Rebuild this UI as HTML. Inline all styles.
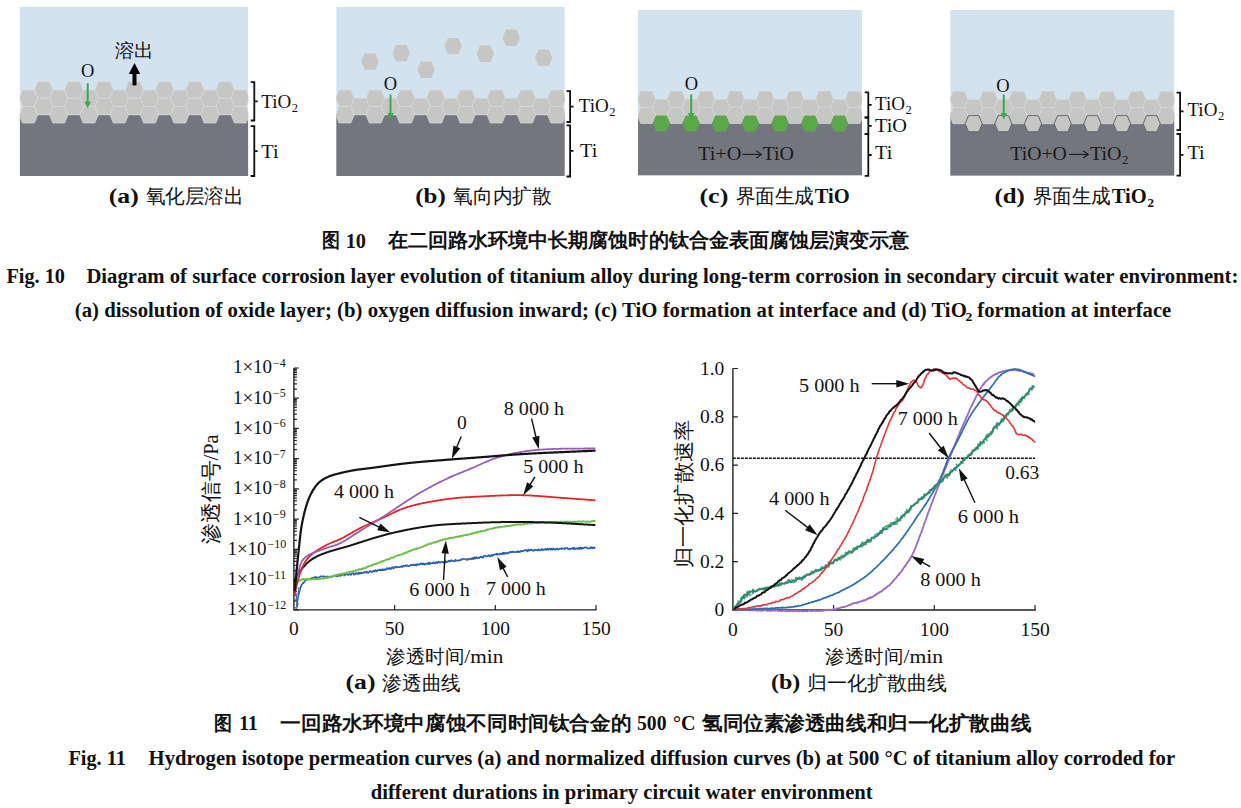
<!DOCTYPE html><html><head><meta charset="utf-8"><title>Fig</title><style>
html,body{margin:0;padding:0;background:#fff;width:1241px;height:808px;overflow:hidden;position:relative;font-family:"Liberation Serif",serif}
</style></head><body>
<svg width="1241" height="808" viewBox="0 0 1241 808" style="position:absolute;left:0;top:0">
<defs><clipPath id="pc"><rect x="0" y="0" width="228.6" height="169.1"/></clipPath></defs>
<g transform="translate(19.7 7.0) scale(1.0)"><g clip-path="url(#pc)"><rect x="0" y="0" width="228.6" height="169.1" fill="#d3e2ef"/>
<rect x="0" y="108" width="228.6" height="61.1" fill="#73767e"/>
<polygon points="-0.45,91.25 2.93,83 14.68,83 18.05,91.25 14.68,99.5 2.93,99.5" fill="#c6c6c5" stroke="#d8dadb" stroke-width="0.7"/>
<polygon points="-0.45,107.75 2.93,99.5 14.68,99.5 18.05,107.75 14.68,116 2.93,116" fill="#c6c6c5" stroke="#d8dadb" stroke-width="0.7"/>
<polygon points="29.8,91.25 33.17,83 44.92,83 48.3,91.25 44.92,99.5 33.17,99.5" fill="#c6c6c5" stroke="#d8dadb" stroke-width="0.7"/>
<polygon points="29.8,107.75 33.17,99.5 44.92,99.5 48.3,107.75 44.92,116 33.17,116" fill="#c6c6c5" stroke="#d8dadb" stroke-width="0.7"/>
<polygon points="60.05,91.25 63.42,83 75.17,83 78.55,91.25 75.17,99.5 63.42,99.5" fill="#c6c6c5" stroke="#d8dadb" stroke-width="0.7"/>
<polygon points="60.05,107.75 63.42,99.5 75.17,99.5 78.55,107.75 75.17,116 63.42,116" fill="#c6c6c5" stroke="#d8dadb" stroke-width="0.7"/>
<polygon points="90.3,91.25 93.67,83 105.42,83 108.8,91.25 105.42,99.5 93.67,99.5" fill="#c6c6c5" stroke="#d8dadb" stroke-width="0.7"/>
<polygon points="90.3,107.75 93.67,99.5 105.42,99.5 108.8,107.75 105.42,116 93.67,116" fill="#c6c6c5" stroke="#d8dadb" stroke-width="0.7"/>
<polygon points="120.55,91.25 123.93,83 135.68,83 139.05,91.25 135.68,99.5 123.93,99.5" fill="#c6c6c5" stroke="#d8dadb" stroke-width="0.7"/>
<polygon points="120.55,107.75 123.93,99.5 135.68,99.5 139.05,107.75 135.68,116 123.93,116" fill="#c6c6c5" stroke="#d8dadb" stroke-width="0.7"/>
<polygon points="150.8,91.25 154.18,83 165.93,83 169.3,91.25 165.93,99.5 154.18,99.5" fill="#c6c6c5" stroke="#d8dadb" stroke-width="0.7"/>
<polygon points="150.8,107.75 154.18,99.5 165.93,99.5 169.3,107.75 165.93,116 154.18,116" fill="#c6c6c5" stroke="#d8dadb" stroke-width="0.7"/>
<polygon points="181.05,91.25 184.43,83 196.18,83 199.55,91.25 196.18,99.5 184.43,99.5" fill="#c6c6c5" stroke="#d8dadb" stroke-width="0.7"/>
<polygon points="181.05,107.75 184.43,99.5 196.18,99.5 199.55,107.75 196.18,116 184.43,116" fill="#c6c6c5" stroke="#d8dadb" stroke-width="0.7"/>
<polygon points="211.3,91.25 214.68,83 226.43,83 229.8,91.25 226.43,99.5 214.68,99.5" fill="#c6c6c5" stroke="#d8dadb" stroke-width="0.7"/>
<polygon points="211.3,107.75 214.68,99.5 226.43,99.5 229.8,107.75 226.43,116 214.68,116" fill="#c6c6c5" stroke="#d8dadb" stroke-width="0.7"/>
<polygon points="14.68,83 18.05,74.75 29.8,74.75 33.17,83 29.8,91.25 18.05,91.25" fill="#c6c6c5" stroke="#d8dadb" stroke-width="0.7"/>
<polygon points="14.68,99.5 18.05,91.25 29.8,91.25 33.17,99.5 29.8,107.75 18.05,107.75" fill="#c6c6c5" stroke="#d8dadb" stroke-width="0.7"/>
<polygon points="44.92,83 48.3,74.75 60.05,74.75 63.42,83 60.05,91.25 48.3,91.25" fill="#c6c6c5" stroke="#d8dadb" stroke-width="0.7"/>
<polygon points="44.92,99.5 48.3,91.25 60.05,91.25 63.42,99.5 60.05,107.75 48.3,107.75" fill="#c6c6c5" stroke="#d8dadb" stroke-width="0.7"/>
<polygon points="75.17,83 78.55,74.75 90.3,74.75 93.67,83 90.3,91.25 78.55,91.25" fill="#c6c6c5" stroke="#d8dadb" stroke-width="0.7"/>
<polygon points="75.17,99.5 78.55,91.25 90.3,91.25 93.67,99.5 90.3,107.75 78.55,107.75" fill="#c6c6c5" stroke="#d8dadb" stroke-width="0.7"/>
<polygon points="105.42,83 108.8,74.75 120.55,74.75 123.92,83 120.55,91.25 108.8,91.25" fill="#c6c6c5" stroke="#d8dadb" stroke-width="0.7"/>
<polygon points="105.42,99.5 108.8,91.25 120.55,91.25 123.92,99.5 120.55,107.75 108.8,107.75" fill="#c6c6c5" stroke="#d8dadb" stroke-width="0.7"/>
<polygon points="135.68,83 139.05,74.75 150.8,74.75 154.18,83 150.8,91.25 139.05,91.25" fill="#c6c6c5" stroke="#d8dadb" stroke-width="0.7"/>
<polygon points="135.68,99.5 139.05,91.25 150.8,91.25 154.18,99.5 150.8,107.75 139.05,107.75" fill="#c6c6c5" stroke="#d8dadb" stroke-width="0.7"/>
<polygon points="165.93,83 169.3,74.75 181.05,74.75 184.43,83 181.05,91.25 169.3,91.25" fill="#c6c6c5" stroke="#d8dadb" stroke-width="0.7"/>
<polygon points="165.93,99.5 169.3,91.25 181.05,91.25 184.43,99.5 181.05,107.75 169.3,107.75" fill="#c6c6c5" stroke="#d8dadb" stroke-width="0.7"/>
<polygon points="196.18,83 199.55,74.75 211.3,74.75 214.68,83 211.3,91.25 199.55,91.25" fill="#c6c6c5" stroke="#d8dadb" stroke-width="0.7"/>
<polygon points="196.18,99.5 199.55,91.25 211.3,91.25 214.68,99.5 211.3,107.75 199.55,107.75" fill="#c6c6c5" stroke="#d8dadb" stroke-width="0.7"/></g></g>
<g transform="translate(336.2 7.0) scale(1.0)"><g clip-path="url(#pc)"><rect x="0" y="0" width="228.6" height="169.1" fill="#d3e2ef"/>
<rect x="0" y="108" width="228.6" height="61.1" fill="#73767e"/>
<polygon points="25.1,54.6 28.55,46.4 39.05,46.4 42.5,54.6 39.05,62.8 28.55,62.8" fill="#c6c6c5"/>
<polygon points="56.3,46.3 59.75,38.1 70.25,38.1 73.7,46.3 70.25,54.5 59.75,54.5" fill="#c6c6c5"/>
<polygon points="81.2,62.7 84.65,54.5 95.15,54.5 98.6,62.7 95.15,70.9 84.65,70.9" fill="#c6c6c5"/>
<polygon points="108.3,39.1 111.75,30.9 122.25,30.9 125.7,39.1 122.25,47.3 111.75,47.3" fill="#c6c6c5"/>
<polygon points="140.4,46.8 143.85,38.6 154.35,38.6 157.8,46.8 154.35,55 143.85,55" fill="#c6c6c5"/>
<polygon points="166.3,30.8 169.75,22.6 180.25,22.6 183.7,30.8 180.25,39 169.75,39" fill="#c6c6c5"/>
<polygon points="198.8,50.7 202.25,42.5 212.75,42.5 216.2,50.7 212.75,58.9 202.25,58.9" fill="#c6c6c5"/>
<polygon points="-0.45,91.25 2.93,83 14.68,83 18.05,91.25 14.68,99.5 2.93,99.5" fill="#c6c6c5" stroke="#d8dadb" stroke-width="0.7"/>
<polygon points="-0.45,107.75 2.93,99.5 14.68,99.5 18.05,107.75 14.68,116 2.93,116" fill="#c6c6c5" stroke="#d8dadb" stroke-width="0.7"/>
<polygon points="29.8,91.25 33.17,83 44.92,83 48.3,91.25 44.92,99.5 33.17,99.5" fill="#c6c6c5" stroke="#d8dadb" stroke-width="0.7"/>
<polygon points="29.8,107.75 33.17,99.5 44.92,99.5 48.3,107.75 44.92,116 33.17,116" fill="#c6c6c5" stroke="#d8dadb" stroke-width="0.7"/>
<polygon points="60.05,91.25 63.42,83 75.17,83 78.55,91.25 75.17,99.5 63.42,99.5" fill="#c6c6c5" stroke="#d8dadb" stroke-width="0.7"/>
<polygon points="60.05,107.75 63.42,99.5 75.17,99.5 78.55,107.75 75.17,116 63.42,116" fill="#c6c6c5" stroke="#d8dadb" stroke-width="0.7"/>
<polygon points="90.3,91.25 93.67,83 105.42,83 108.8,91.25 105.42,99.5 93.67,99.5" fill="#c6c6c5" stroke="#d8dadb" stroke-width="0.7"/>
<polygon points="90.3,107.75 93.67,99.5 105.42,99.5 108.8,107.75 105.42,116 93.67,116" fill="#c6c6c5" stroke="#d8dadb" stroke-width="0.7"/>
<polygon points="120.55,91.25 123.93,83 135.68,83 139.05,91.25 135.68,99.5 123.93,99.5" fill="#c6c6c5" stroke="#d8dadb" stroke-width="0.7"/>
<polygon points="120.55,107.75 123.93,99.5 135.68,99.5 139.05,107.75 135.68,116 123.93,116" fill="#c6c6c5" stroke="#d8dadb" stroke-width="0.7"/>
<polygon points="150.8,91.25 154.18,83 165.93,83 169.3,91.25 165.93,99.5 154.18,99.5" fill="#c6c6c5" stroke="#d8dadb" stroke-width="0.7"/>
<polygon points="150.8,107.75 154.18,99.5 165.93,99.5 169.3,107.75 165.93,116 154.18,116" fill="#c6c6c5" stroke="#d8dadb" stroke-width="0.7"/>
<polygon points="181.05,91.25 184.43,83 196.18,83 199.55,91.25 196.18,99.5 184.43,99.5" fill="#c6c6c5" stroke="#d8dadb" stroke-width="0.7"/>
<polygon points="181.05,107.75 184.43,99.5 196.18,99.5 199.55,107.75 196.18,116 184.43,116" fill="#c6c6c5" stroke="#d8dadb" stroke-width="0.7"/>
<polygon points="211.3,91.25 214.68,83 226.43,83 229.8,91.25 226.43,99.5 214.68,99.5" fill="#c6c6c5" stroke="#d8dadb" stroke-width="0.7"/>
<polygon points="211.3,107.75 214.68,99.5 226.43,99.5 229.8,107.75 226.43,116 214.68,116" fill="#c6c6c5" stroke="#d8dadb" stroke-width="0.7"/>
<polygon points="14.68,99.5 18.05,91.25 29.8,91.25 33.17,99.5 29.8,107.75 18.05,107.75" fill="#c6c6c5" stroke="#d8dadb" stroke-width="0.7"/>
<polygon points="44.92,99.5 48.3,91.25 60.05,91.25 63.42,99.5 60.05,107.75 48.3,107.75" fill="#c6c6c5" stroke="#d8dadb" stroke-width="0.7"/>
<polygon points="75.17,99.5 78.55,91.25 90.3,91.25 93.67,99.5 90.3,107.75 78.55,107.75" fill="#c6c6c5" stroke="#d8dadb" stroke-width="0.7"/>
<polygon points="105.42,99.5 108.8,91.25 120.55,91.25 123.92,99.5 120.55,107.75 108.8,107.75" fill="#c6c6c5" stroke="#d8dadb" stroke-width="0.7"/>
<polygon points="135.68,99.5 139.05,91.25 150.8,91.25 154.18,99.5 150.8,107.75 139.05,107.75" fill="#c6c6c5" stroke="#d8dadb" stroke-width="0.7"/>
<polygon points="165.93,99.5 169.3,91.25 181.05,91.25 184.43,99.5 181.05,107.75 169.3,107.75" fill="#c6c6c5" stroke="#d8dadb" stroke-width="0.7"/>
<polygon points="196.18,99.5 199.55,91.25 211.3,91.25 214.68,99.5 211.3,107.75 199.55,107.75" fill="#c6c6c5" stroke="#d8dadb" stroke-width="0.7"/></g></g>
<g transform="translate(637.9 9.7) scale(0.981)"><g clip-path="url(#pc)"><rect x="0" y="0" width="228.6" height="169.1" fill="#d3e2ef"/>
<rect x="0" y="108" width="228.6" height="61.1" fill="#73767e"/>
<polygon points="-0.45,91.25 2.93,83 14.68,83 18.05,91.25 14.68,99.5 2.93,99.5" fill="#c6c6c5" stroke="#d8dadb" stroke-width="0.7"/>
<polygon points="-0.45,107.75 2.93,99.5 14.68,99.5 18.05,107.75 14.68,116 2.93,116" fill="#c6c6c5" stroke="#d8dadb" stroke-width="0.7"/>
<polygon points="29.8,91.25 33.17,83 44.92,83 48.3,91.25 44.92,99.5 33.17,99.5" fill="#c6c6c5" stroke="#d8dadb" stroke-width="0.7"/>
<polygon points="29.8,107.75 33.17,99.5 44.92,99.5 48.3,107.75 44.92,116 33.17,116" fill="#c6c6c5" stroke="#d8dadb" stroke-width="0.7"/>
<polygon points="60.05,91.25 63.42,83 75.17,83 78.55,91.25 75.17,99.5 63.42,99.5" fill="#c6c6c5" stroke="#d8dadb" stroke-width="0.7"/>
<polygon points="60.05,107.75 63.42,99.5 75.17,99.5 78.55,107.75 75.17,116 63.42,116" fill="#c6c6c5" stroke="#d8dadb" stroke-width="0.7"/>
<polygon points="90.3,91.25 93.67,83 105.42,83 108.8,91.25 105.42,99.5 93.67,99.5" fill="#c6c6c5" stroke="#d8dadb" stroke-width="0.7"/>
<polygon points="90.3,107.75 93.67,99.5 105.42,99.5 108.8,107.75 105.42,116 93.67,116" fill="#c6c6c5" stroke="#d8dadb" stroke-width="0.7"/>
<polygon points="120.55,91.25 123.93,83 135.68,83 139.05,91.25 135.68,99.5 123.93,99.5" fill="#c6c6c5" stroke="#d8dadb" stroke-width="0.7"/>
<polygon points="120.55,107.75 123.93,99.5 135.68,99.5 139.05,107.75 135.68,116 123.93,116" fill="#c6c6c5" stroke="#d8dadb" stroke-width="0.7"/>
<polygon points="150.8,91.25 154.18,83 165.93,83 169.3,91.25 165.93,99.5 154.18,99.5" fill="#c6c6c5" stroke="#d8dadb" stroke-width="0.7"/>
<polygon points="150.8,107.75 154.18,99.5 165.93,99.5 169.3,107.75 165.93,116 154.18,116" fill="#c6c6c5" stroke="#d8dadb" stroke-width="0.7"/>
<polygon points="181.05,91.25 184.43,83 196.18,83 199.55,91.25 196.18,99.5 184.43,99.5" fill="#c6c6c5" stroke="#d8dadb" stroke-width="0.7"/>
<polygon points="181.05,107.75 184.43,99.5 196.18,99.5 199.55,107.75 196.18,116 184.43,116" fill="#c6c6c5" stroke="#d8dadb" stroke-width="0.7"/>
<polygon points="211.3,91.25 214.68,83 226.43,83 229.8,91.25 226.43,99.5 214.68,99.5" fill="#c6c6c5" stroke="#d8dadb" stroke-width="0.7"/>
<polygon points="211.3,107.75 214.68,99.5 226.43,99.5 229.8,107.75 226.43,116 214.68,116" fill="#c6c6c5" stroke="#d8dadb" stroke-width="0.7"/>
<polygon points="14.68,99.5 18.05,91.25 29.8,91.25 33.17,99.5 29.8,107.75 18.05,107.75" fill="#c6c6c5" stroke="#d8dadb" stroke-width="0.7"/>
<polygon points="15.18,116 18.68,107.75 29.18,107.75 32.67,116 29.18,124.25 18.68,124.25" fill="#5aa847"/>
<polygon points="44.92,99.5 48.3,91.25 60.05,91.25 63.42,99.5 60.05,107.75 48.3,107.75" fill="#c6c6c5" stroke="#d8dadb" stroke-width="0.7"/>
<polygon points="45.42,116 48.92,107.75 59.42,107.75 62.92,116 59.42,124.25 48.92,124.25" fill="#5aa847"/>
<polygon points="75.17,99.5 78.55,91.25 90.3,91.25 93.67,99.5 90.3,107.75 78.55,107.75" fill="#c6c6c5" stroke="#d8dadb" stroke-width="0.7"/>
<polygon points="75.67,116 79.17,107.75 89.67,107.75 93.17,116 89.67,124.25 79.17,124.25" fill="#5aa847"/>
<polygon points="105.42,99.5 108.8,91.25 120.55,91.25 123.92,99.5 120.55,107.75 108.8,107.75" fill="#c6c6c5" stroke="#d8dadb" stroke-width="0.7"/>
<polygon points="105.92,116 109.42,107.75 119.92,107.75 123.42,116 119.92,124.25 109.42,124.25" fill="#5aa847"/>
<polygon points="135.68,99.5 139.05,91.25 150.8,91.25 154.18,99.5 150.8,107.75 139.05,107.75" fill="#c6c6c5" stroke="#d8dadb" stroke-width="0.7"/>
<polygon points="136.18,116 139.68,107.75 150.18,107.75 153.68,116 150.18,124.25 139.68,124.25" fill="#5aa847"/>
<polygon points="165.93,99.5 169.3,91.25 181.05,91.25 184.43,99.5 181.05,107.75 169.3,107.75" fill="#c6c6c5" stroke="#d8dadb" stroke-width="0.7"/>
<polygon points="166.43,116 169.93,107.75 180.43,107.75 183.93,116 180.43,124.25 169.93,124.25" fill="#5aa847"/>
<polygon points="196.18,99.5 199.55,91.25 211.3,91.25 214.68,99.5 211.3,107.75 199.55,107.75" fill="#c6c6c5" stroke="#d8dadb" stroke-width="0.7"/>
<polygon points="196.68,116 200.18,107.75 210.68,107.75 214.18,116 210.68,124.25 200.18,124.25" fill="#5aa847"/></g></g>
<g transform="translate(950.2 9.9) scale(0.981)"><g clip-path="url(#pc)"><rect x="0" y="0" width="228.6" height="169.1" fill="#d3e2ef"/>
<rect x="0" y="108" width="228.6" height="61.1" fill="#73767e"/>
<polygon points="-0.45,91.25 2.93,83 14.68,83 18.05,91.25 14.68,99.5 2.93,99.5" fill="#c6c6c5" stroke="#d8dadb" stroke-width="0.7"/>
<polygon points="-0.45,107.75 2.93,99.5 14.68,99.5 18.05,107.75 14.68,116 2.93,116" fill="#c6c6c5" stroke="#d8dadb" stroke-width="0.7"/>
<polygon points="29.8,91.25 33.17,83 44.92,83 48.3,91.25 44.92,99.5 33.17,99.5" fill="#c6c6c5" stroke="#d8dadb" stroke-width="0.7"/>
<polygon points="29.8,107.75 33.17,99.5 44.92,99.5 48.3,107.75 44.92,116 33.17,116" fill="#c6c6c5" stroke="#d8dadb" stroke-width="0.7"/>
<polygon points="60.05,91.25 63.42,83 75.17,83 78.55,91.25 75.17,99.5 63.42,99.5" fill="#c6c6c5" stroke="#d8dadb" stroke-width="0.7"/>
<polygon points="60.05,107.75 63.42,99.5 75.17,99.5 78.55,107.75 75.17,116 63.42,116" fill="#c6c6c5" stroke="#d8dadb" stroke-width="0.7"/>
<polygon points="90.3,91.25 93.67,83 105.42,83 108.8,91.25 105.42,99.5 93.67,99.5" fill="#c6c6c5" stroke="#d8dadb" stroke-width="0.7"/>
<polygon points="90.3,107.75 93.67,99.5 105.42,99.5 108.8,107.75 105.42,116 93.67,116" fill="#c6c6c5" stroke="#d8dadb" stroke-width="0.7"/>
<polygon points="120.55,91.25 123.93,83 135.68,83 139.05,91.25 135.68,99.5 123.93,99.5" fill="#c6c6c5" stroke="#d8dadb" stroke-width="0.7"/>
<polygon points="120.55,107.75 123.93,99.5 135.68,99.5 139.05,107.75 135.68,116 123.93,116" fill="#c6c6c5" stroke="#d8dadb" stroke-width="0.7"/>
<polygon points="150.8,91.25 154.18,83 165.93,83 169.3,91.25 165.93,99.5 154.18,99.5" fill="#c6c6c5" stroke="#d8dadb" stroke-width="0.7"/>
<polygon points="150.8,107.75 154.18,99.5 165.93,99.5 169.3,107.75 165.93,116 154.18,116" fill="#c6c6c5" stroke="#d8dadb" stroke-width="0.7"/>
<polygon points="181.05,91.25 184.43,83 196.18,83 199.55,91.25 196.18,99.5 184.43,99.5" fill="#c6c6c5" stroke="#d8dadb" stroke-width="0.7"/>
<polygon points="181.05,107.75 184.43,99.5 196.18,99.5 199.55,107.75 196.18,116 184.43,116" fill="#c6c6c5" stroke="#d8dadb" stroke-width="0.7"/>
<polygon points="211.3,91.25 214.68,83 226.43,83 229.8,91.25 226.43,99.5 214.68,99.5" fill="#c6c6c5" stroke="#d8dadb" stroke-width="0.7"/>
<polygon points="211.3,107.75 214.68,99.5 226.43,99.5 229.8,107.75 226.43,116 214.68,116" fill="#c6c6c5" stroke="#d8dadb" stroke-width="0.7"/>
<polygon points="14.68,99.5 18.05,91.25 29.8,91.25 33.17,99.5 29.8,107.75 18.05,107.75" fill="#c6c6c5" stroke="#d8dadb" stroke-width="0.7"/>
<polygon points="15.18,116 18.68,107.75 29.18,107.75 32.67,116 29.18,124.25 18.68,124.25" fill="#c6c6c5" stroke="#5c5e64" stroke-width="0.9"/>
<polygon points="44.92,99.5 48.3,91.25 60.05,91.25 63.42,99.5 60.05,107.75 48.3,107.75" fill="#c6c6c5" stroke="#d8dadb" stroke-width="0.7"/>
<polygon points="45.42,116 48.92,107.75 59.42,107.75 62.92,116 59.42,124.25 48.92,124.25" fill="#c6c6c5" stroke="#5c5e64" stroke-width="0.9"/>
<polygon points="75.17,99.5 78.55,91.25 90.3,91.25 93.67,99.5 90.3,107.75 78.55,107.75" fill="#c6c6c5" stroke="#d8dadb" stroke-width="0.7"/>
<polygon points="75.67,116 79.17,107.75 89.67,107.75 93.17,116 89.67,124.25 79.17,124.25" fill="#c6c6c5" stroke="#5c5e64" stroke-width="0.9"/>
<polygon points="105.42,99.5 108.8,91.25 120.55,91.25 123.92,99.5 120.55,107.75 108.8,107.75" fill="#c6c6c5" stroke="#d8dadb" stroke-width="0.7"/>
<polygon points="105.92,116 109.42,107.75 119.92,107.75 123.42,116 119.92,124.25 109.42,124.25" fill="#c6c6c5" stroke="#5c5e64" stroke-width="0.9"/>
<polygon points="135.68,99.5 139.05,91.25 150.8,91.25 154.18,99.5 150.8,107.75 139.05,107.75" fill="#c6c6c5" stroke="#d8dadb" stroke-width="0.7"/>
<polygon points="136.18,116 139.68,107.75 150.18,107.75 153.68,116 150.18,124.25 139.68,124.25" fill="#c6c6c5" stroke="#5c5e64" stroke-width="0.9"/>
<polygon points="165.93,99.5 169.3,91.25 181.05,91.25 184.43,99.5 181.05,107.75 169.3,107.75" fill="#c6c6c5" stroke="#d8dadb" stroke-width="0.7"/>
<polygon points="166.43,116 169.93,107.75 180.43,107.75 183.93,116 180.43,124.25 169.93,124.25" fill="#c6c6c5" stroke="#5c5e64" stroke-width="0.9"/>
<polygon points="196.18,99.5 199.55,91.25 211.3,91.25 214.68,99.5 211.3,107.75 199.55,107.75" fill="#c6c6c5" stroke="#d8dadb" stroke-width="0.7"/>
<polygon points="196.68,116 200.18,107.75 210.68,107.75 214.18,116 210.68,124.25 200.18,124.25" fill="#c6c6c5" stroke="#5c5e64" stroke-width="0.9"/></g></g>
<path d="M87.7 83.3 V103.3" stroke="#3aaa4a" stroke-width="2"/><path d="M84.5 101.8 L87.7 108.3 L90.9 101.8 Z" fill="#3aaa4a"/>
<path d="M390.5 94.5 V114.6" stroke="#3aaa4a" stroke-width="2"/><path d="M387.3 113.1 L390.5 119.6 L393.7 113.1 Z" fill="#3aaa4a"/>
<path d="M691.2 94.5 V114.5" stroke="#3aaa4a" stroke-width="2"/><path d="M688 113 L691.2 119.5 L694.4 113 Z" fill="#3aaa4a"/>
<path d="M1003.8 94.5 V114.5" stroke="#3aaa4a" stroke-width="2"/><path d="M1000.6 113 L1003.8 119.5 L1007 113 Z" fill="#3aaa4a"/>
<path d="M134.5 85.4 V72" stroke="#000" stroke-width="4"/><path d="M128.8 74 L134.5 62.9 L140.2 74 Z" fill="#000"/>
<g font-family="'Liberation Serif', serif" fill="#111">
<text x="87.6" y="77.4" font-size="18.5" text-anchor="middle">O</text>
<text x="390.4" y="89.6" font-size="18.5" text-anchor="middle">O</text>
<text x="691.4" y="90" font-size="18.5" text-anchor="middle">O</text>
<text x="1003" y="91.7" font-size="18.5" text-anchor="middle">O</text>
<text x="114.5" y="57.2" font-size="18.5" textLength="39" lengthAdjust="spacingAndGlyphs">溶出</text>
<path d="M250.7 82.1 H254.3 V120.5 H250.7 M254.3 101.3 H257.7" fill="none" stroke="#111" stroke-width="1.8"/>
<path d="M250.7 126.2 H254.3 V176 H250.7 M254.3 151.1 H257.7" fill="none" stroke="#111" stroke-width="1.8"/>
<text x="261.3" y="108.1" font-size="19.5" textLength="30" lengthAdjust="spacingAndGlyphs">TiO</text><text x="291.8" y="112.1" font-size="12.5">2</text>
<text x="261.3" y="157.5" font-size="19.5" textLength="17.3" lengthAdjust="spacingAndGlyphs">Ti</text>
<path d="M566.5 91.2 H570.1 V122 H566.5 M570.1 106.6 H573.5" fill="none" stroke="#111" stroke-width="1.8"/>
<path d="M566.5 125.3 H570.1 V176.5 H566.5 M570.1 150.9 H573.5" fill="none" stroke="#111" stroke-width="1.8"/>
<text x="578.7" y="112.2" font-size="19.5" textLength="30" lengthAdjust="spacingAndGlyphs">TiO</text><text x="609.2" y="116.2" font-size="12.5">2</text>
<text x="580" y="157.4" font-size="19.5" textLength="17.3" lengthAdjust="spacingAndGlyphs">Ti</text>
<path d="M864.7 92.3 H868.3 V117.5 H864.7 M868.3 104.9 H871.7" fill="none" stroke="#111" stroke-width="1.8"/>
<path d="M864.7 117.5 H868.3 V134.2 H864.7 M868.3 125.85 H871.7" fill="none" stroke="#111" stroke-width="1.8"/>
<path d="M864.7 134.2 H868.3 V175.8 H864.7 M868.3 155 H871.7" fill="none" stroke="#111" stroke-width="1.8"/>
<text x="875" y="110" font-size="19.5" textLength="30" lengthAdjust="spacingAndGlyphs">TiO</text><text x="905.5" y="114" font-size="12.5">2</text>
<text x="875" y="132.4" font-size="19.5" textLength="32" lengthAdjust="spacingAndGlyphs">TiO</text>
<text x="875" y="159.2" font-size="19.5" textLength="17.3" lengthAdjust="spacingAndGlyphs">Ti</text>
<path d="M1176.5 92.6 H1180.1 V130.2 H1176.5 M1180.1 111.4 H1183.5" fill="none" stroke="#111" stroke-width="1.8"/>
<path d="M1176.5 134 H1180.1 V175.7 H1176.5 M1180.1 154.85 H1183.5" fill="none" stroke="#111" stroke-width="1.8"/>
<text x="1187.4" y="115.7" font-size="19.5" textLength="30" lengthAdjust="spacingAndGlyphs">TiO</text><text x="1217.9" y="119.7" font-size="12.5">2</text>
<text x="1187.4" y="159.3" font-size="19.5" textLength="17.3" lengthAdjust="spacingAndGlyphs">Ti</text>
<text x="698" y="159.7" font-size="19.5" textLength="43.5" lengthAdjust="spacingAndGlyphs" fill="#1a1a1a">Ti+O</text>
<path d="M742.4 154.4 H761.3" stroke="#1a1a1a" stroke-width="1.1"/><path d="M756.3 150.8 L761.3 154.4 L756.3 158" fill="none" stroke="#1a1a1a" stroke-width="1.1"/>
<text x="762.5" y="159.7" font-size="19.5" textLength="31.5" lengthAdjust="spacingAndGlyphs" fill="#1a1a1a">TiO</text>
<text x="1010.3" y="159.7" font-size="19.5" textLength="56.5" lengthAdjust="spacingAndGlyphs" fill="#1a1a1a">TiO+O</text>
<path d="M1069 154.4 H1088.2" stroke="#1a1a1a" stroke-width="1.1"/><path d="M1083.2 150.8 L1088.2 154.4 L1083.2 158" fill="none" stroke="#1a1a1a" stroke-width="1.1"/>
<text x="1090" y="159.7" font-size="19.5" textLength="31.5" lengthAdjust="spacingAndGlyphs" fill="#1a1a1a">TiO</text>
<text x="1122" y="163.7" font-size="12.5" fill="#1a1a1a">2</text>
<text x="108.8" y="203.2" font-size="20" textLength="30" lengthAdjust="spacingAndGlyphs" font-weight="bold">(a)</text>
<text x="145.5" y="202.5" font-size="19.5" textLength="98" lengthAdjust="spacingAndGlyphs">氧化层溶出</text>
<text x="415.3" y="203.2" font-size="20" textLength="30.5" lengthAdjust="spacingAndGlyphs" font-weight="bold">(b)</text>
<text x="453.2" y="202.5" font-size="19.5" textLength="98.5" lengthAdjust="spacingAndGlyphs">氧向内扩散</text>
<text x="699.4" y="203.2" font-size="20" textLength="29" lengthAdjust="spacingAndGlyphs" font-weight="bold">(c)</text>
<text x="735.5" y="202.5" font-size="19.5" textLength="78.5" lengthAdjust="spacingAndGlyphs">界面生成</text>
<text x="814.7" y="202.5" font-size="20" textLength="35" lengthAdjust="spacingAndGlyphs" font-weight="bold">TiO</text>
<text x="994.4" y="203.2" font-size="20" textLength="30.4" lengthAdjust="spacingAndGlyphs" font-weight="bold">(d)</text>
<text x="1032.6" y="202.5" font-size="19.5" textLength="78.5" lengthAdjust="spacingAndGlyphs">界面生成</text>
<text x="1111.8" y="202.5" font-size="20" textLength="35" lengthAdjust="spacingAndGlyphs" font-weight="bold">TiO</text>
<text x="1147.5" y="206.5" font-size="13" font-weight="bold">2</text>
</g>
<g font-family="'Liberation Serif', serif" fill="#111" font-weight="bold">
<text x="321.5" y="247" font-size="20" textLength="18" lengthAdjust="spacingAndGlyphs">图</text>
<text x="345.7" y="247.8" font-size="20.5" textLength="20.3" lengthAdjust="spacingAndGlyphs">10</text>
<text x="387.5" y="247" font-size="20" textLength="522" lengthAdjust="spacingAndGlyphs">在二回路水环境中长期腐蚀时的钛合金表面腐蚀层演变示意</text>
<text x="6.4" y="283.4" font-size="20.7" textLength="58.5" lengthAdjust="spacingAndGlyphs">Fig. 10</text>
<text x="86.4" y="283.4" font-size="20.7" textLength="1152" lengthAdjust="spacingAndGlyphs">Diagram of surface corrosion layer evolution of titanium alloy during long-term corrosion in secondary circuit water environment:</text>
<text x="74.8" y="316.9" font-size="20.7" textLength="892" lengthAdjust="spacingAndGlyphs">(a) dissolution of oxide layer; (b) oxygen diffusion inward; (c) TiO formation at interface and (d) TiO</text>
<text x="965.5" y="321.3" font-size="13.5">2</text>
<text x="977.3" y="316.9" font-size="20.7" textLength="194" lengthAdjust="spacingAndGlyphs">formation at interface</text>
</g>
<path d="M293.9 368 V609.9 H596.6" fill="none" stroke="#222" stroke-width="1.4"/>
<path d="M293.9 600.8 h3 M293.9 595.47 h3 M293.9 591.69 h3 M293.9 588.76 h3 M293.9 586.37 h3 M293.9 584.34 h3 M293.9 582.59 h3 M293.9 581.04 h3 M293.9 570.56 h3 M293.9 565.23 h3 M293.9 561.45 h3 M293.9 558.52 h3 M293.9 556.13 h3 M293.9 554.1 h3 M293.9 552.35 h3 M293.9 550.8 h3 M293.9 540.32 h3 M293.9 534.99 h3 M293.9 531.21 h3 M293.9 528.28 h3 M293.9 525.89 h3 M293.9 523.86 h3 M293.9 522.11 h3 M293.9 520.56 h3 M293.9 510.08 h3 M293.9 504.75 h3 M293.9 500.97 h3 M293.9 498.04 h3 M293.9 495.65 h3 M293.9 493.62 h3 M293.9 491.87 h3 M293.9 490.32 h3 M293.9 479.84 h3 M293.9 474.51 h3 M293.9 470.73 h3 M293.9 467.8 h3 M293.9 465.41 h3 M293.9 463.38 h3 M293.9 461.63 h3 M293.9 460.08 h3 M293.9 449.6 h3 M293.9 444.27 h3 M293.9 440.49 h3 M293.9 437.56 h3 M293.9 435.17 h3 M293.9 433.14 h3 M293.9 431.39 h3 M293.9 429.84 h3 M293.9 419.36 h3 M293.9 414.03 h3 M293.9 410.25 h3 M293.9 407.32 h3 M293.9 404.93 h3 M293.9 402.9 h3 M293.9 401.15 h3 M293.9 399.6 h3 M293.9 389.12 h3 M293.9 383.79 h3 M293.9 380.01 h3 M293.9 377.08 h3 M293.9 374.69 h3 M293.9 372.66 h3 M293.9 370.91 h3 M293.9 369.36 h3 M293.9 609.9 h5 M293.9 579.66 h5 M293.9 549.42 h5 M293.9 519.18 h5 M293.9 488.94 h5 M293.9 458.7 h5 M293.9 428.46 h5 M293.9 398.22 h5 M293.9 367.98 h5 M394.6 609.9 v-5 M495.3 609.9 v-5 M596 609.9 v-5" stroke="#222" stroke-width="1.2"/>
<g font-family="'Liberation Serif', serif" fill="#111">
<text x="266.6" y="615.4" font-size="19" text-anchor="end">1×10</text>
<text x="267.6" y="608.9" font-size="12">−12</text>
<text x="266.6" y="585.16" font-size="19" text-anchor="end">1×10</text>
<text x="267.6" y="578.66" font-size="12">−11</text>
<text x="266.6" y="554.92" font-size="19" text-anchor="end">1×10</text>
<text x="267.6" y="548.42" font-size="12">−10</text>
<text x="272.1" y="524.68" font-size="19" text-anchor="end">1×10</text>
<text x="273.1" y="518.18" font-size="12">−9</text>
<text x="272.1" y="494.44" font-size="19" text-anchor="end">1×10</text>
<text x="273.1" y="487.94" font-size="12">−8</text>
<text x="272.1" y="464.2" font-size="19" text-anchor="end">1×10</text>
<text x="273.1" y="457.7" font-size="12">−7</text>
<text x="272.1" y="433.96" font-size="19" text-anchor="end">1×10</text>
<text x="273.1" y="427.46" font-size="12">−6</text>
<text x="272.1" y="403.72" font-size="19" text-anchor="end">1×10</text>
<text x="273.1" y="397.22" font-size="12">−5</text>
<text x="272.1" y="373.48" font-size="19" text-anchor="end">1×10</text>
<text x="273.1" y="366.98" font-size="12">−4</text>
<text x="293.9" y="635.4" font-size="19.5" text-anchor="middle">0</text>
<text x="394.6" y="635.4" font-size="19.5" text-anchor="middle">50</text>
<text x="495.3" y="635.4" font-size="19.5" text-anchor="middle">100</text>
<text x="596" y="635.4" font-size="19.5" text-anchor="middle">150</text>
<text x="386.2" y="662.6" font-size="19" textLength="78" lengthAdjust="spacingAndGlyphs">渗透时间</text>
<text x="464.3" y="662.6" font-size="19.5" textLength="39" lengthAdjust="spacingAndGlyphs">/min</text>
<text x="345.5" y="689" font-size="20" textLength="30" lengthAdjust="spacingAndGlyphs" font-weight="bold">(a)</text>
<text x="382.4" y="689.5" font-size="19.5" textLength="78.5" lengthAdjust="spacingAndGlyphs">渗透曲线</text>
<text transform="translate(218 489) rotate(-90)" font-size="20.5" text-anchor="middle" textLength="109" lengthAdjust="spacingAndGlyphs">渗透信号/Pa</text>
</g>
<path d="M296.81 608.73 295.21 607.65 296.52 608.17 296.32 608.1 297.69 606.32 297.33 605.66 297.02 603.38 296.91 603.95 298.14 604.45 298.3 603.32 296.41 602.1 296.18 599.38 297.92 600.88 295.79 599.91 296.77 596.98 295.97 597.52 296.8 594.83 296.15 594.26 296.92 594.01 298.54 592.69 299.05 593.64 298.9 592.98 298.44 590.74 298.88 589.85 298.43 588.43 298.16 587.6 299.19 588.93" fill="none" stroke="#2a5fae" stroke-width="1.0" stroke-linejoin="round"/>
<path d="M296.81 606.91 296.84 606.87 296.87 605.75 296.91 605.73 296.95 605.96 297 605.48 297.05 603.57 297.11 603.18 297.17 602.34 297.23 602.47 297.31 601.15 297.38 601.33 297.46 601.09 297.55 599.83 297.64 599.95 297.74 599.21 297.85 597.59 297.96 597.96 298.07 596.84 298.19 596.53 298.31 595.7 298.44 595.85 298.57 594.81 298.7 593.71 298.84 593.82 298.97 593.66 299.11 592.22 299.25 591.49 299.39 591.2 299.54 591.61 299.7 591.1 299.86 589.97 300.02 589.81 300.2 589.14 300.4 587.74 300.6 586.66 300.82 587.12 301.06 586.41 301.32 585.53 301.6 584.76 301.9 584.58 302.22 584.2 302.56 583.36 302.92 582.93 303.3 582.78 303.7 583.08 304.11 582.17 304.55 581.23 305 580.85 305.47 580.81 305.95 580.03 306.45 579.71 306.96 579.98 307.49 578.94 308.02 579.4 308.56 578.95 309.12 579.36 309.68 579.23 310.25 578.96 310.82 578.79 311.4 578.08 311.98 578.48 312.57 577.77 313.16 578.08 313.75 577.54 314.34 577.67 314.94 576.9 315.53 577.16 316.13 578.4 316.73 577.01 317.33 577.78 317.93 577.66 318.53 577.74 319.12 577.24 319.72 577.42 320.33 576.42 320.93 576.39 321.53 576.57 322.13 576.45 322.73 576.31 323.33 576.32 323.93 577.04 324.53 576.34 325.13 577.66 325.73 577.13 326.33 576.82 326.92 577.07 327.52 576.22 328.12 577.35 328.72 577.14 329.32 576.87 329.92 576.37 330.52 576.96 331.12 576.72 331.71 576.5 332.31 576.89 332.91 576.33 333.51 575.78 334.11 576.05 334.71 575.35 335.3 575.27 335.9 576.17 336.5 576.22 337.1 576.49 337.7 576.21 338.3 575.59 338.89 574.71 339.49 575.37 340.09 576.1 340.69 575.79 341.29 575.18 341.89 575.06 342.49 574.58 343.09 574.44 343.68 574.19 344.28 575.6 344.88 575.09 345.48 574.13 346.08 574.56 346.68 573.84 347.27 574.06 347.87 574.93 348.47 574.73 349.07 574.35 349.67 573.92 350.27 574.53 350.86 575.01 351.46 574.01 352.06 573.28 352.66 573.19 353.26 573.17 353.85 574.68 354.45 573.85 355.05 574.32 355.65 573.04 356.24 573.13 356.84 573.84 357.44 574.13 358.03 573.05 358.63 572.48 359.23 573.84 359.83 572.73 360.42 573.47 361.02 572.34 361.61 573.22 362.21 573.4 362.81 573.11 363.4 572.37 364 572.95 364.59 571.8 365.19 572.03 365.79 572.14 366.38 572.87 366.98 571.48 367.57 572.7 368.17 572.46 368.76 572.68 369.36 571.51 369.95 571.12 370.55 571.09 371.14 572.06 371.73 572.21 372.33 571.64 372.92 571.16 373.52 570.71 374.11 571.6 374.71 571.58 375.3 570.08 375.89 570.2 376.49 571.22 377.08 571.15 377.68 570.1 378.27 569.94 378.87 570.11 379.46 570.21 380.05 569.32 380.65 570.55 381.24 569.91 381.84 570.25 382.43 569.17 383.02 570.4 383.62 569.92 384.21 569.09 384.81 570.08 385.4 569.54 385.99 569.69 386.59 568.17 387.18 568.09 387.78 569.23 388.37 568.35 388.96 568.63 389.56 567.89 390.15 569.27 390.75 568.32 391.34 568.82 391.94 567.36 392.53 568 393.13 567.16 393.72 568.54 394.31 567.66 394.91 566.89 395.5 566.82 396.1 567.56 396.69 566.63 397.29 566.74 397.88 567.1 398.48 567.12 399.07 567.19 399.67 567.17 400.26 566.64 400.86 566.99 401.46 566.07 402.05 566.2 402.65 567.06 403.24 565.81 403.84 565.86 404.44 565.81 405.03 566.15 405.63 565.21 406.22 565.18 406.82 565.88 407.42 565.26 408.01 566.11 408.61 566.24 409.21 565.78 409.8 565.91 410.4 565.29 411 564.59 411.6 565.22 412.19 565.03 412.79 565.36 413.39 564.45 413.98 564.55 414.58 565.53 415.18 564.47 415.78 564.66 416.37 565.54 416.97 564.28 417.57 563.98 418.17 564.91 418.77 564.6 419.36 564.61 419.96 563.52 420.56 564.12 421.16 563.31 421.76 563.68 422.35 564.44 422.95 563.22 423.55 563.57 424.15 564.75 424.75 564.66 425.34 563.71 425.94 564.1 426.54 563.85 427.14 563.49 427.74 564.13 428.34 562.83 428.93 563.95 429.53 562.47 430.13 563.89 430.73 563.48 431.33 563.01 431.93 563.35 432.52 562.91 433.12 563.42 433.72 562.15 434.32 562.8 434.92 563.39 435.52 563.43 436.12 562.1 436.71 562.09 437.31 563.2 437.91 562.13 438.51 561.55 439.11 562.67 439.71 562.07 440.31 562.59 440.9 562.06 441.5 562.04 442.1 561.83 442.7 561.54 443.3 562.57 443.9 562.09 444.49 562.24 445.09 562.37 445.69 561.15 446.29 562.29 446.89 562.12 447.49 561.42 448.09 561.47 448.68 560.59 449.28 561.69 449.88 560.56 450.48 561.15 451.08 560.35 451.68 560.19 452.27 561.09 452.87 560.81 453.47 561.08 454.07 561.22 454.67 561.5 455.26 559.81 455.86 560.73 456.46 560.57 457.06 560.63 457.66 560.37 458.25 560.33 458.85 560.82 459.45 560 460.05 560.08 460.65 560.29 461.24 559.14 461.84 559.69 462.44 559.02 463.04 559.01 463.63 558.7 464.23 559 464.83 558.94 465.43 559.4 466.02 559.43 466.62 559.81 467.22 559.13 467.81 559.78 468.41 558.81 469.01 559.36 469.6 558.94 470.2 558.98 470.8 558.27 471.39 559.39 471.99 559 472.58 557.8 473.18 558.42 473.78 559.16 474.37 557.37 474.97 557.74 475.56 558.44 476.16 557.09 476.75 558.27 477.35 557.87 477.94 558.06 478.54 557.65 479.13 558.25 479.73 557.09 480.32 557.41 480.92 556.37 481.51 557.18 482.1 556.84 482.7 557.76 483.29 557.6 483.88 556.04 484.48 555.77 485.07 555.82 485.67 555.85 486.26 556.71 486.85 556.28 487.45 556.16 488.04 555.93 488.63 555.01 489.23 555.6 489.82 556.59 490.41 556.17 491.01 555.62 491.6 554.84 492.19 556.05 492.78 555.05 493.38 555.3 493.97 554.45 494.56 554.57 495.16 554.5 495.75 554.49 496.34 553.72 496.94 554.77 497.53 553.79 498.12 554.47 498.72 554.4 499.31 554.44 499.91 553.61 500.5 553.52 501.09 554.25 501.69 553.5 502.28 552.98 502.88 554.24 503.47 552.54 504.06 554.02 504.66 552.85 505.25 552.92 505.85 553.91 506.44 552.84 507.04 553.25 507.63 552.62 508.23 553.44 508.83 553 509.42 552.49 510.02 551.69 510.61 552.11 511.21 552.25 511.81 551.8 512.4 552.17 513 551.51 513.6 551.95 514.19 551.93 514.79 552.12 515.39 552.17 515.98 552.07 516.58 551.45 517.18 551.44 517.78 552.12 518.38 551.14 518.97 551.75 519.57 552.15 520.17 551.96 520.77 551.22 521.37 550.72 521.97 551.23 522.57 551.29 523.16 550.95 523.76 550.56 524.36 550.71 524.96 549.98 525.56 550.31 526.16 549.99 526.76 550.88 527.36 551.36 527.96 549.87 528.56 549.59 529.16 550.83 529.76 550.08 530.36 550.31 530.96 549.47 531.56 549.64 532.16 550.53 532.76 550.32 533.36 550.73 533.96 550.89 534.56 549.77 535.16 550.2 535.76 549.85 536.36 549.92 536.97 549.68 537.57 550.7 538.17 550.03 538.77 549.12 539.37 550.09 539.97 550.54 540.57 550.38 541.17 549.75 541.77 548.74 542.37 550.13 542.97 550.33 543.58 549.94 544.18 549.37 544.78 549.25 545.38 549.88 545.98 548.71 546.58 549.9 547.18 549.36 547.78 548.56 548.39 549.89 548.99 549.09 549.59 548.55 550.19 548.65 550.79 549.86 551.39 548.6 551.99 549.68 552.59 549.69 553.2 548.38 553.8 548.98 554.4 549.6 555 549.04 555.6 549.7 556.2 548.8 556.8 549.23 557.41 548.46 558.01 549.57 558.61 549.55 559.21 549.04 559.81 548.58 560.41 548.6 561.01 549.03 561.62 548.17 562.22 548.84 562.82 548.44 563.42 548.5 564.02 548.45 564.62 549.35 565.22 548.15 565.83 548.24 566.43 548.09 567.03 547.8 567.63 548.53 568.23 549.26 568.83 549.35 569.44 548.58 570.04 548.45 570.64 549.23 571.24 548.61 571.84 548.62 572.44 548.79 573.04 547.75 573.65 549.09 574.25 547.76 574.85 548.51 575.45 549.2 576.05 548.5 576.65 548.11 577.26 548.79 577.86 549.08 578.46 548.55 579.06 547.52 579.66 548.99 580.26 547.42 580.86 548.59 581.47 548.97 582.07 547.61 582.67 548.26 583.27 548.56 583.87 547.59 584.47 547.69 585.07 547.35 585.68 547.5 586.28 547.4 586.88 547.69 587.48 548.5 588.08 548.38 588.68 548.48 589.28 548.27 589.87 548.49 590.47 547.31 591.05 548.02 591.63 547.04 592.19 547.86 592.73 548.47 593.25 547.78 593.74 547.45 594.2 547.39 594.62 547.59 594.99 548.51 595.31 548.6" fill="none" stroke="#2a5fae" stroke-width="1.6" stroke-linejoin="round"/>
<path d="M296.66 584.37 296.79 583.67 296.94 583.79 297.12 583.19 297.34 582.82 297.6 581.97 297.9 582.37 298.24 581.05 298.61 580.97 299.03 580.84 299.47 580.9 299.95 580.06 300.46 580.5 300.98 580.43 301.53 579.44 302.09 579.73 302.66 579.02 303.24 579.3 303.83 578.88 304.42 579.72 305.01 579.15 305.61 579.63 306.2 579.44 306.8 579.5 307.4 578.8 308 578.7 308.6 579.23 309.2 578.8 309.81 579.38 310.41 579.06 311.01 579.19 311.61 579.62 312.21 579.21 312.81 578.8 313.41 578.85 314.01 579.24 314.61 579.21 315.21 579.31 315.81 579.05 316.41 579.27 317.01 578.98 317.61 579.17 318.21 579.26 318.81 578.62 319.41 578.76 320 578.82 320.6 578.93 321.2 578.42 321.79 578.64 322.39 578.63 322.98 578.81 323.58 578.18 324.17 578.36 324.76 577.82 325.35 578.02 325.94 577.59 326.53 578.22 327.12 577.61 327.71 577.89 328.3 577.35 328.89 577.71 329.47 577.07 330.06 576.86 330.64 576.95 331.22 577.08 331.8 576.94 332.38 576.52 332.96 575.84 333.54 576.19 334.12 575.68 334.7 576 335.27 575.99 335.85 575.44 336.43 575.37 337.01 574.66 337.59 574.98 338.17 574.4 338.75 574.73 339.33 574.33 339.91 574.58 340.49 573.71 341.08 573.63 341.66 574.06 342.24 573.75 342.83 573.67 343.42 573.8 344 573.31 344.59 573.5 345.17 573.07 345.76 573.35 346.35 572.96 346.94 572.31 347.52 572.4 348.11 572.76 348.7 572.12 349.28 571.82 349.87 571.97 350.45 571.76 351.04 571.85 351.63 571.53 352.21 571.21 352.8 571.22 353.38 571.08 353.96 571.42 354.55 571.35 355.13 570.85 355.71 570.15 356.29 570.65 356.87 570.44 357.45 570.42 358.03 569.78 358.61 569.33 359.19 569.71 359.76 569.06 360.34 569.52 360.91 569.38 361.49 568.81 362.06 569.17 362.63 568.21 363.21 568.8 363.78 568.13 364.35 568.24 364.92 568.04 365.49 568.07 366.06 567.87 366.62 566.74 367.19 566.52 367.76 566.84 368.33 566.13 368.89 566.55 369.46 566.23 370.02 566.15 370.59 565.72 371.15 565.35 371.72 565.82 372.28 565.39 372.85 564.46 373.41 564.34 373.97 564.66 374.54 564.1 375.1 564.01 375.66 564.17 376.22 563.53 376.79 563.89 377.35 563.47 377.91 563.09 378.47 562.51 379.03 562.52 379.6 562.66 380.16 562.67 380.72 561.54 381.28 561.39 381.84 561.78 382.41 561.66 382.97 560.7 383.53 561.22 384.09 560.97 384.65 560.65 385.22 560.09 385.78 559.98 386.34 559.69 386.9 559.95 387.47 559.23 388.03 559.01 388.59 559.41 389.15 559.18 389.72 559.02 390.28 558.65 390.85 557.72 391.41 557.52 391.97 557.78 392.54 557.87 393.1 557.69 393.67 557.23 394.23 557.35 394.8 556.34 395.36 556.2 395.93 556.11 396.49 555.83 397.06 555.68 397.62 555.28 398.19 555.33 398.76 554.78 399.32 555.08 399.89 555.28 400.45 554.57 401.01 554.54 401.58 554.33 402.14 554.44 402.71 554.03 403.27 553.92 403.84 553.22 404.4 553.58 404.97 552.65 405.53 552.67 406.09 552.79 406.66 552.17 407.22 552.52 407.79 552.28 408.35 551.38 408.91 551.24 409.48 550.85 410.04 551.45 410.61 550.72 411.17 550.56 411.74 550.23 412.3 549.88 412.86 550 413.43 549.57 413.99 549.69 414.56 549.12 415.12 549.23 415.69 549.46 416.25 548.67 416.82 549.05 417.38 547.94 417.95 548.23 418.51 548.07 419.08 548.23 419.64 547.99 420.21 547.37 420.77 547.41 421.34 547.43 421.91 546.98 422.47 547 423.04 546.78 423.6 546.12 424.17 546.1 424.74 545.42 425.31 545.48 425.87 545.71 426.44 545.22 427.01 544.72 427.58 544.37 428.15 544.28 428.71 543.98 429.28 543.89 429.85 543.85 430.42 543.31 430.99 543.92 431.56 543.29 432.13 543.26 432.7 543.14 433.27 542.45 433.85 542.22 434.42 542.1 434.99 542.75 435.56 541.68 436.14 541.82 436.71 542.09 437.29 541.62 437.86 540.88 438.44 541.58 439.01 540.9 439.59 540.51 440.16 540.51 440.74 540.6 441.32 539.88 441.9 540.32 442.48 540.12 443.06 539.58 443.64 539.62 444.22 539.24 444.8 538.91 445.38 539.33 445.97 539.04 446.55 539.3 447.14 538.51 447.72 538.61 448.31 538.7 448.89 537.97 449.48 538.13 450.07 538.33 450.65 537.76 451.24 537.75 451.83 537.84 452.42 537.55 453.01 537.9 453.6 537.77 454.19 537.62 454.78 537.1 455.37 536.75 455.96 537.09 456.55 536.76 457.14 536.73 457.73 536.76 458.33 536.94 458.92 536.7 459.51 535.91 460.1 536.58 460.69 536.24 461.28 535.77 461.87 536.07 462.46 535.7 463.05 535.68 463.65 535.57 464.24 535.04 464.83 535.13 465.42 535.09 466 534.59 466.59 535.14 467.18 534.62 467.77 534.64 468.36 534.98 468.95 534.77 469.53 534.05 470.12 534.04 470.7 534.08 471.29 533.49 471.87 534.02 472.46 533.41 473.04 533.05 473.63 533.5 474.21 533.16 474.79 532.52 475.37 532.9 475.95 532.95 476.54 532.07 477.12 532.54 477.7 531.97 478.28 532 478.86 531.48 479.44 531.78 480.02 532.03 480.6 531.24 481.18 530.84 481.76 531.47 482.34 531.41 482.92 530.8 483.5 531.06 484.08 530.9 484.67 530.57 485.25 530.52 485.83 529.7 486.41 530.23 486.99 529.65 487.58 529.38 488.16 529.51 488.74 529.66 489.33 529.09 489.91 528.6 490.5 528.67 491.09 528.54 491.67 528.82 492.26 528.95 492.85 528.41 493.44 527.99 494.03 528.32 494.62 527.65 495.21 527.44 495.8 527.92 496.39 527.53 496.98 527.5 497.57 527.01 498.16 527.31 498.75 527.33 499.35 527.61 499.94 526.55 500.53 526.94 501.13 526.81 501.72 526.86 502.31 526.99 502.91 526.54 503.5 526.52 504.1 526.36 504.69 526.56 505.29 526.59 505.88 525.91 506.48 526.23 507.07 526.07 507.67 525.71 508.26 526.06 508.86 525.87 509.45 525.58 510.05 525.58 510.65 525.88 511.24 525.49 511.84 525.41 512.44 525.08 513.03 525.41 513.63 525.43 514.23 524.79 514.82 524.74 515.42 525.02 516.02 524.56 516.62 524.29 517.21 524.42 517.81 524.77 518.41 524.51 519.01 524.52 519.61 524.5 520.2 524.35 520.8 524.71 521.4 524.5 522 524.59 522.6 524.26 523.2 524.31 523.8 524.2 524.39 524.34 524.99 523.68 525.59 523.61 526.19 523.24 526.79 523.24 527.39 524.08 527.99 523.54 528.59 523.14 529.19 523.07 529.79 523.43 530.39 523.52 530.98 523.65 531.58 523.34 532.18 523.05 532.78 523.37 533.38 522.81 533.98 522.91 534.58 522.66 535.18 523.17 535.78 522.99 536.38 522.85 536.98 522.6 537.58 523.17 538.18 522.69 538.78 523.16 539.38 522.49 539.98 522.82 540.58 522.88 541.18 522.28 541.79 522.26 542.39 522.81 542.99 522.1 543.59 522.46 544.19 522.04 544.79 522.89 545.39 522.73 545.99 522.11 546.59 522.69 547.19 522.57 547.79 521.91 548.39 522.04 549 522.39 549.6 522.43 550.2 522.05 550.8 521.81 551.4 522.16 552 522.41 552.6 522.15 553.2 521.8 553.8 521.89 554.41 522.33 555.01 522.01 555.61 522.3 556.21 521.69 556.81 522.19 557.41 522.28 558.01 522.36 558.61 521.75 559.22 522.35 559.82 522.01 560.42 521.71 561.02 521.43 561.62 522.05 562.22 522.32 562.82 521.93 563.43 521.65 564.03 521.66 564.63 521.81 565.23 522.29 565.83 521.73 566.43 521.67 567.03 521.77 567.63 521.49 568.24 521.54 568.84 522.05 569.44 522.13 570.04 521.59 570.64 521.69 571.24 522.1 571.84 521.9 572.45 521.64 573.05 522.13 573.65 522.05 574.25 521.61 574.85 521.33 575.45 521.97 576.05 522.02 576.66 521.78 577.26 521.91 577.86 521.11 578.46 521.7 579.06 521.88 579.66 521.35 580.26 521.21 580.87 521.93 581.47 521.81 582.07 521.38 582.67 521.59 583.27 521.23 583.87 521.32 584.47 521.66 585.07 521.72 585.68 521.83 586.28 521.6 586.88 521.73 587.48 521.11 588.08 521.62 588.68 521.87 589.28 521.79 589.87 521.65 590.47 521.74 591.05 521.29 591.63 521.14 592.19 521.45 592.73 521.38 593.25 520.82 593.74 521.04 594.2 521.34 594.62 520.81 594.99 520.8 595.31 521.11" fill="none" stroke="#6cbf48" stroke-width="1.8" stroke-linejoin="round"/>
<path d="M294.67 582.82 294.69 582.49 294.73 582.12 294.77 581.71 294.82 581.26 294.88 580.78 294.96 580.28 295.06 579.75 295.18 579.22 295.33 578.67 295.49 578.13 295.69 577.59 295.91 577.05 296.15 576.52 296.42 576 296.7 575.49 297.01 574.99 297.34 574.49 297.68 574.01 298.04 573.53 298.4 573.05 298.77 572.59 299.15 572.12 299.53 571.65 299.91 571.19 300.3 570.73 300.68 570.27 301.07 569.81 301.45 569.35 301.84 568.88 302.23 568.42 302.61 567.96 303 567.5 303.39 567.05 303.79 566.59 304.18 566.14 304.58 565.69 304.99 565.25 305.4 564.81 305.81 564.38 306.24 563.95 306.67 563.53 307.1 563.12 307.54 562.72 307.99 562.32 308.45 561.93 308.91 561.55 309.38 561.18 309.86 560.81 310.34 560.45 310.82 560.1 311.32 559.76 311.82 559.43 312.32 559.1 312.82 558.78 313.34 558.46 313.85 558.15 314.37 557.85 314.89 557.56 315.42 557.27 315.95 556.98 316.48 556.7 317.02 556.43 317.56 556.16 318.1 555.9 318.64 555.65 319.19 555.4 319.74 555.15 320.29 554.92 320.84 554.68 321.4 554.45 321.95 554.23 322.51 554.01 323.07 553.79 323.64 553.58 324.2 553.37 324.77 553.16 325.33 552.96 325.9 552.75 326.47 552.56 327.03 552.36 327.6 552.16 328.17 551.97 328.74 551.78 329.32 551.59 329.89 551.41 330.46 551.22 331.03 551.04 331.61 550.86 332.18 550.69 332.76 550.51 333.34 550.34 333.91 550.17 334.49 550 335.07 549.83 335.65 549.67 336.23 549.5 336.8 549.34 337.38 549.18 337.96 549.02 338.54 548.86 339.12 548.7 339.7 548.54 340.29 548.38 340.87 548.23 341.45 548.07 342.03 547.91 342.61 547.75 343.19 547.59 343.77 547.43 344.35 547.27 344.93 547.11 345.51 546.95 346.09 546.78 346.66 546.62 347.24 546.45 347.82 546.28 348.4 546.11 348.97 545.94 349.55 545.76 350.12 545.59 350.7 545.41 351.27 545.23 351.84 545.04 352.42 544.86 352.99 544.68 353.56 544.49 354.13 544.3 354.71 544.12 355.28 543.93 355.85 543.74 356.42 543.56 356.99 543.37 357.57 543.19 358.14 543 358.71 542.82 359.29 542.63 359.86 542.45 360.43 542.27 361.01 542.09 361.58 541.91 362.15 541.73 362.73 541.55 363.3 541.36 363.87 541.18 364.45 541 365.02 540.82 365.6 540.64 366.17 540.46 366.74 540.28 367.32 540.1 367.89 539.92 368.47 539.74 369.04 539.56 369.62 539.38 370.19 539.2 370.76 539.02 371.34 538.85 371.91 538.67 372.49 538.49 373.06 538.31 373.64 538.14 374.22 537.96 374.79 537.79 375.37 537.61 375.94 537.44 376.52 537.27 377.1 537.1 377.67 536.93 378.25 536.76 378.83 536.59 379.41 536.42 379.98 536.25 380.56 536.09 381.14 535.92 381.72 535.76 382.3 535.59 382.88 535.43 383.46 535.27 384.04 535.11 384.62 534.95 385.2 534.8 385.78 534.64 386.36 534.49 386.94 534.34 387.53 534.19 388.11 534.04 388.69 533.89 389.28 533.74 389.86 533.6 390.45 533.46 391.03 533.31 391.61 533.17 392.2 533.03 392.79 532.89 393.37 532.76 393.96 532.62 394.54 532.49 395.13 532.35 395.72 532.22 396.3 532.08 396.89 531.95 397.48 531.82 398.06 531.69 398.65 531.56 399.24 531.43 399.83 531.3 400.42 531.18 401 531.05 401.59 530.93 402.18 530.8 402.77 530.68 403.36 530.55 403.95 530.43 404.54 530.31 405.13 530.19 405.72 530.07 406.31 529.95 406.9 529.84 407.49 529.72 408.08 529.6 408.67 529.49 409.26 529.37 409.85 529.26 410.44 529.15 411.03 529.04 411.62 528.93 412.22 528.82 412.81 528.71 413.4 528.6 413.99 528.49 414.58 528.39 415.18 528.28 415.77 528.18 416.36 528.07 416.95 527.97 417.55 527.87 418.14 527.77 418.73 527.67 419.33 527.57 419.92 527.47 420.51 527.38 421.11 527.28 421.7 527.19 422.3 527.1 422.89 527 423.49 526.91 424.08 526.82 424.68 526.73 425.27 526.65 425.87 526.56 426.46 526.48 427.06 526.39 427.65 526.31 428.25 526.23 428.85 526.15 429.44 526.07 430.04 525.99 430.64 525.92 431.23 525.84 431.83 525.77 432.43 525.7 433.03 525.63 433.62 525.56 434.22 525.49 434.82 525.42 435.42 525.36 436.02 525.3 436.62 525.24 437.21 525.18 437.81 525.12 438.41 525.06 439.01 525.01 439.61 524.95 440.21 524.9 440.81 524.85 441.41 524.8 442.01 524.75 442.61 524.7 443.21 524.65 443.81 524.61 444.41 524.56 445.01 524.52 445.61 524.48 446.21 524.44 446.81 524.4 447.41 524.36 448.01 524.32 448.61 524.28 449.21 524.24 449.81 524.2 450.41 524.17 451.01 524.13 451.61 524.1 452.21 524.07 452.81 524.03 453.41 524 454.02 523.97 454.62 523.94 455.22 523.91 455.82 523.87 456.42 523.84 457.02 523.81 457.62 523.78 458.22 523.76 458.82 523.73 459.42 523.7 460.03 523.67 460.63 523.64 461.23 523.61 461.83 523.58 462.43 523.56 463.03 523.53 463.63 523.5 464.23 523.47 464.83 523.44 465.43 523.42 466.04 523.39 466.64 523.36 467.24 523.33 467.84 523.3 468.44 523.27 469.04 523.25 469.64 523.22 470.24 523.19 470.84 523.16 471.44 523.13 472.05 523.1 472.65 523.07 473.25 523.05 473.85 523.02 474.45 522.99 475.05 522.96 475.65 522.94 476.25 522.91 476.85 522.88 477.46 522.86 478.06 522.83 478.66 522.81 479.26 522.78 479.86 522.76 480.46 522.73 481.06 522.71 481.66 522.68 482.26 522.66 482.87 522.64 483.47 522.61 484.07 522.59 484.67 522.57 485.27 522.55 485.87 522.53 486.47 522.51 487.08 522.49 487.68 522.47 488.28 522.45 488.88 522.43 489.48 522.41 490.08 522.39 490.68 522.37 491.28 522.35 491.89 522.33 492.49 522.32 493.09 522.3 493.69 522.28 494.29 522.27 494.89 522.25 495.5 522.24 496.1 522.22 496.7 522.21 497.3 522.19 497.9 522.18 498.5 522.17 499.1 522.15 499.71 522.14 500.31 522.13 500.91 522.12 501.51 522.11 502.11 522.1 502.71 522.09 503.32 522.08 503.92 522.07 504.52 522.06 505.12 522.05 505.72 522.04 506.32 522.03 506.93 522.03 507.53 522.02 508.13 522.01 508.73 522.01 509.33 522 509.93 522 510.54 521.99 511.14 521.99 511.74 521.98 512.34 521.98 512.94 521.98 513.54 521.98 514.15 521.97 514.75 521.97 515.35 521.97 515.95 521.97 516.55 521.97 517.15 521.97 517.76 521.97 518.36 521.97 518.96 521.97 519.56 521.97 520.16 521.98 520.76 521.98 521.37 521.98 521.97 521.98 522.57 521.99 523.17 521.99 523.77 522 524.37 522 524.98 522.01 525.58 522.01 526.18 522.02 526.78 522.02 527.38 522.03 527.98 522.04 528.59 522.05 529.19 522.06 529.79 522.06 530.39 522.07 530.99 522.08 531.59 522.09 532.2 522.1 532.8 522.11 533.4 522.12 534 522.14 534.6 522.15 535.2 522.16 535.8 522.17 536.41 522.19 537.01 522.2 537.61 522.21 538.21 522.23 538.81 522.24 539.41 522.26 540.02 522.27 540.62 522.29 541.22 522.3 541.82 522.32 542.42 522.34 543.02 522.35 543.62 522.37 544.23 522.39 544.83 522.41 545.43 522.43 546.03 522.44 546.63 522.46 547.23 522.48 547.83 522.5 548.43 522.52 549.04 522.55 549.64 522.57 550.24 522.59 550.84 522.61 551.44 522.64 552.04 522.66 552.64 522.68 553.24 522.71 553.85 522.73 554.45 522.76 555.05 522.79 555.65 522.81 556.25 522.84 556.85 522.87 557.45 522.9 558.05 522.92 558.65 522.95 559.26 522.98 559.86 523.01 560.46 523.04 561.06 523.07 561.66 523.1 562.26 523.14 562.86 523.17 563.46 523.2 564.06 523.23 564.66 523.26 565.26 523.3 565.87 523.33 566.47 523.36 567.07 523.39 567.67 523.43 568.27 523.46 568.87 523.5 569.47 523.53 570.07 523.56 570.67 523.6 571.27 523.63 571.87 523.67 572.47 523.7 573.07 523.74 573.67 523.77 574.27 523.81 574.88 523.84 575.48 523.88 576.08 523.91 576.68 523.95 577.28 523.99 577.88 524.02 578.48 524.06 579.08 524.09 579.68 524.13 580.28 524.16 580.88 524.2 581.48 524.24 582.08 524.27 582.68 524.31 583.28 524.34 583.89 524.38 584.49 524.41 585.09 524.45 585.69 524.48 586.29 524.52 586.89 524.56 587.49 524.59 588.09 524.63 588.69 524.66 589.29 524.69 589.88 524.73 590.47 524.76 591.06 524.8 591.63 524.83 592.19 524.86 592.73 524.89 593.25 524.92 593.75 524.95 594.2 524.97 594.62 525 594.99 525.02 595.31 525.03" fill="none" stroke="#141414" stroke-width="2.0" stroke-linejoin="round"/>
<path d="M294.9 595.82 294.93 595.49 294.96 595.12 295.01 594.71 295.06 594.25 295.11 593.77 295.18 593.25 295.25 592.71 295.33 592.16 295.41 591.59 295.51 591.01 295.61 590.43 295.71 589.84 295.83 589.26 295.94 588.67 296.06 588.08 296.19 587.49 296.32 586.9 296.45 586.32 296.58 585.73 296.72 585.14 296.86 584.56 297 583.97 297.14 583.39 297.29 582.8 297.44 582.22 297.59 581.64 297.74 581.06 297.9 580.47 298.05 579.89 298.21 579.31 298.37 578.73 298.54 578.15 298.71 577.58 298.88 577 299.05 576.42 299.22 575.85 299.4 575.27 299.59 574.7 299.77 574.13 299.96 573.56 300.15 572.99 300.35 572.42 300.55 571.85 300.75 571.28 300.96 570.72 301.17 570.16 301.39 569.6 301.61 569.04 301.84 568.48 302.07 567.93 302.31 567.38 302.56 566.83 302.81 566.28 303.07 565.74 303.34 565.2 303.61 564.67 303.89 564.14 304.18 563.61 304.48 563.09 304.78 562.57 305.09 562.06 305.41 561.55 305.74 561.05 306.07 560.55 306.41 560.06 306.77 559.57 307.13 559.09 307.5 558.62 307.87 558.16 308.26 557.7 308.66 557.26 309.07 556.82 309.48 556.39 309.91 555.96 310.34 555.55 310.78 555.15 311.23 554.75 311.69 554.36 312.15 553.98 312.62 553.6 313.09 553.24 313.57 552.88 314.06 552.52 314.55 552.17 315.04 551.83 315.54 551.49 316.03 551.15 316.54 550.82 317.04 550.49 317.55 550.17 318.06 549.85 318.57 549.53 319.08 549.22 319.6 548.9 320.11 548.6 320.63 548.29 321.15 547.98 321.67 547.68 322.19 547.38 322.71 547.09 323.24 546.79 323.76 546.5 324.29 546.21 324.82 545.92 325.35 545.64 325.88 545.35 326.41 545.08 326.95 544.8 327.49 544.53 328.02 544.26 328.57 544 329.11 543.74 329.65 543.49 330.2 543.24 330.75 543.01 331.31 542.77 331.86 542.54 332.42 542.32 332.98 542.1 333.54 541.89 334.1 541.67 334.67 541.46 335.23 541.25 335.79 541.03 336.35 540.81 336.91 540.59 337.46 540.36 338.02 540.12 338.57 539.88 339.11 539.64 339.66 539.39 340.2 539.13 340.74 538.86 341.28 538.6 341.82 538.32 342.35 538.04 342.88 537.76 343.41 537.48 343.94 537.19 344.47 536.9 344.99 536.61 345.52 536.31 346.04 536.02 346.56 535.72 347.09 535.42 347.61 535.12 348.13 534.82 348.65 534.52 349.17 534.22 349.7 533.92 350.22 533.62 350.74 533.32 351.26 533.02 351.78 532.72 352.3 532.42 352.83 532.12 353.35 531.83 353.87 531.53 354.4 531.24 354.93 530.94 355.45 530.65 355.98 530.36 356.51 530.07 357.04 529.79 357.57 529.5 358.1 529.22 358.63 528.94 359.17 528.66 359.7 528.39 360.24 528.12 360.78 527.85 361.31 527.58 361.85 527.31 362.39 527.04 362.93 526.78 363.48 526.52 364.02 526.26 364.56 526 365.11 525.74 365.65 525.49 366.2 525.23 366.74 524.98 367.29 524.73 367.83 524.47 368.38 524.22 368.93 523.97 369.48 523.73 370.03 523.48 370.57 523.23 371.12 522.98 371.67 522.74 372.22 522.49 372.77 522.25 373.32 522 373.87 521.76 374.42 521.51 374.97 521.27 375.52 521.03 376.07 520.78 376.62 520.54 377.18 520.3 377.73 520.06 378.28 519.81 378.83 519.57 379.38 519.33 379.93 519.08 380.48 518.84 381.03 518.59 381.58 518.35 382.13 518.1 382.67 517.85 383.22 517.6 383.77 517.35 384.32 517.1 384.86 516.85 385.41 516.6 385.95 516.34 386.5 516.09 387.04 515.83 387.59 515.57 388.13 515.31 388.67 515.05 389.21 514.78 389.75 514.52 390.3 514.26 390.84 514 391.38 513.73 391.92 513.47 392.46 513.21 393 512.95 393.55 512.69 394.09 512.43 394.63 512.17 395.18 511.91 395.72 511.66 396.27 511.41 396.82 511.16 397.36 510.91 397.91 510.66 398.47 510.42 399.02 510.18 399.57 509.95 400.13 509.71 400.68 509.49 401.24 509.26 401.8 509.04 402.36 508.82 402.92 508.61 403.49 508.4 404.05 508.19 404.62 507.99 405.18 507.79 405.75 507.6 406.32 507.41 406.9 507.22 407.47 507.04 408.04 506.86 408.62 506.68 409.2 506.51 409.77 506.34 410.35 506.18 410.93 506.02 411.51 505.86 412.09 505.7 412.68 505.55 413.26 505.39 413.84 505.25 414.42 505.1 415.01 504.95 415.59 504.81 416.18 504.67 416.76 504.53 417.35 504.4 417.94 504.26 418.52 504.13 419.11 504 419.7 503.87 420.29 503.74 420.87 503.61 421.46 503.49 422.05 503.36 422.64 503.24 423.23 503.12 423.82 503 424.41 502.88 425 502.77 425.59 502.65 426.18 502.54 426.77 502.42 427.37 502.31 427.96 502.2 428.55 502.09 429.14 501.98 429.73 501.88 430.33 501.77 430.92 501.66 431.51 501.56 432.1 501.46 432.7 501.35 433.29 501.25 433.88 501.15 434.48 501.05 435.07 500.95 435.66 500.85 436.26 500.76 436.85 500.66 437.45 500.57 438.04 500.47 438.64 500.38 439.23 500.28 439.82 500.19 440.42 500.1 441.01 500.01 441.61 499.92 442.21 499.83 442.8 499.74 443.4 499.65 443.99 499.57 444.59 499.48 445.18 499.4 445.78 499.31 446.37 499.23 446.97 499.14 447.57 499.06 448.16 498.98 448.76 498.9 449.36 498.82 449.95 498.74 450.55 498.67 451.15 498.59 451.74 498.52 452.34 498.45 452.94 498.38 453.54 498.31 454.14 498.24 454.73 498.18 455.33 498.11 455.93 498.05 456.53 497.99 457.13 497.93 457.73 497.87 458.33 497.82 458.93 497.77 459.53 497.71 460.13 497.66 460.73 497.62 461.33 497.57 461.93 497.52 462.53 497.48 463.13 497.43 463.73 497.39 464.33 497.35 464.93 497.31 465.53 497.27 466.13 497.23 466.73 497.2 467.33 497.16 467.93 497.13 468.53 497.09 469.13 497.06 469.73 497.03 470.34 496.99 470.94 496.96 471.54 496.93 472.14 496.9 472.74 496.87 473.34 496.84 473.94 496.81 474.54 496.78 475.14 496.75 475.75 496.72 476.35 496.69 476.95 496.65 477.55 496.62 478.15 496.59 478.75 496.56 479.35 496.53 479.95 496.5 480.55 496.47 481.15 496.44 481.76 496.41 482.36 496.37 482.96 496.34 483.56 496.31 484.16 496.28 484.76 496.25 485.36 496.22 485.96 496.19 486.56 496.15 487.17 496.12 487.77 496.09 488.37 496.06 488.97 496.03 489.57 496 490.17 495.97 490.77 495.94 491.37 495.91 491.97 495.88 492.58 495.86 493.18 495.83 493.78 495.8 494.38 495.77 494.98 495.74 495.58 495.72 496.18 495.69 496.78 495.66 497.39 495.64 497.99 495.61 498.59 495.59 499.19 495.57 499.79 495.54 500.39 495.52 500.99 495.5 501.6 495.47 502.2 495.45 502.8 495.43 503.4 495.41 504 495.39 504.6 495.37 505.2 495.36 505.81 495.34 506.41 495.32 507.01 495.31 507.61 495.29 508.21 495.28 508.81 495.26 509.42 495.25 510.02 495.24 510.62 495.23 511.22 495.22 511.82 495.21 512.43 495.2 513.03 495.19 513.63 495.19 514.23 495.18 514.83 495.18 515.43 495.18 516.04 495.17 516.64 495.17 517.24 495.17 517.84 495.18 518.44 495.18 519.05 495.18 519.65 495.19 520.25 495.19 520.85 495.2 521.45 495.21 522.05 495.22 522.66 495.23 523.26 495.25 523.86 495.26 524.46 495.28 525.06 495.3 525.66 495.32 526.27 495.34 526.87 495.36 527.47 495.39 528.07 495.41 528.67 495.44 529.27 495.47 529.87 495.49 530.47 495.52 531.08 495.56 531.68 495.59 532.28 495.62 532.88 495.66 533.48 495.69 534.08 495.73 534.68 495.77 535.28 495.81 535.88 495.85 536.48 495.89 537.08 495.93 537.68 495.97 538.28 496.01 538.88 496.06 539.48 496.1 540.08 496.15 540.68 496.19 541.28 496.24 541.88 496.28 542.48 496.33 543.08 496.38 543.68 496.43 544.28 496.47 544.88 496.52 545.48 496.57 546.08 496.62 546.68 496.67 547.28 496.72 547.88 496.77 548.48 496.82 549.08 496.87 549.68 496.92 550.28 496.97 550.88 497.02 551.48 497.06 552.08 497.11 552.68 497.16 553.28 497.21 553.88 497.26 554.48 497.31 555.08 497.36 555.68 497.4 556.28 497.45 556.88 497.5 557.48 497.54 558.08 497.59 558.68 497.63 559.28 497.68 559.88 497.72 560.48 497.77 561.08 497.81 561.68 497.85 562.28 497.9 562.88 497.94 563.49 497.98 564.09 498.02 564.69 498.07 565.29 498.11 565.89 498.15 566.49 498.2 567.09 498.24 567.69 498.28 568.29 498.33 568.89 498.37 569.49 498.41 570.09 498.46 570.69 498.5 571.29 498.54 571.89 498.59 572.49 498.63 573.09 498.67 573.69 498.72 574.29 498.76 574.89 498.81 575.49 498.85 576.09 498.89 576.69 498.94 577.29 498.98 577.89 499.03 578.49 499.07 579.09 499.11 579.69 499.16 580.29 499.2 580.89 499.25 581.49 499.29 582.09 499.34 582.69 499.38 583.29 499.43 583.89 499.47 584.5 499.51 585.1 499.56 585.7 499.6 586.3 499.65 586.9 499.69 587.5 499.74 588.1 499.78 588.69 499.83 589.29 499.87 589.89 499.91 590.48 499.96 591.06 500 591.63 500.04 592.2 500.08 592.74 500.12 593.26 500.16 593.75 500.2 594.2 500.23 594.62 500.26 594.99 500.29 595.31 500.31" fill="none" stroke="#e52329" stroke-width="1.8" stroke-linejoin="round"/>
<path d="M297.44 579.82 297.48 579.5 297.52 579.13 297.57 578.71 297.62 578.26 297.68 577.77 297.75 577.25 297.82 576.71 297.89 576.16 297.97 575.59 298.05 575.01 298.14 574.42 298.24 573.83 298.33 573.24 298.43 572.65 298.54 572.06 298.65 571.47 298.77 570.88 298.89 570.29 299.01 569.7 299.14 569.11 299.28 568.53 299.42 567.95 299.57 567.36 299.72 566.78 299.89 566.21 300.07 565.64 300.25 565.07 300.46 564.51 300.67 563.95 300.9 563.4 301.15 562.86 301.41 562.33 301.7 561.81 302 561.3 302.31 560.8 302.65 560.31 303 559.83 303.37 559.37 303.75 558.92 304.15 558.48 304.57 558.05 305 557.64 305.44 557.24 305.89 556.86 306.36 556.49 306.83 556.13 307.32 555.79 307.82 555.46 308.32 555.14 308.84 554.84 309.36 554.56 309.89 554.28 310.43 554.02 310.98 553.77 311.52 553.53 312.08 553.3 312.64 553.08 313.2 552.86 313.76 552.65 314.32 552.44 314.89 552.24 315.45 552.03 316.02 551.82 316.58 551.62 317.15 551.41 317.71 551.21 318.28 551 318.85 550.8 319.41 550.59 319.98 550.38 320.54 550.18 321.11 549.97 321.67 549.77 322.24 549.56 322.81 549.36 323.37 549.15 323.94 548.95 324.51 548.75 325.07 548.55 325.64 548.35 326.21 548.15 326.78 547.96 327.35 547.76 327.92 547.57 328.49 547.38 329.06 547.19 329.64 547.01 330.21 546.83 330.78 546.65 331.36 546.47 331.93 546.29 332.51 546.11 333.08 545.94 333.66 545.76 334.23 545.57 334.8 545.39 335.37 545.19 335.94 544.99 336.5 544.79 337.06 544.58 337.62 544.35 338.18 544.12 338.73 543.89 339.27 543.64 339.82 543.39 340.36 543.12 340.89 542.85 341.43 542.58 341.96 542.3 342.49 542.01 343.01 541.72 343.54 541.42 344.06 541.12 344.58 540.81 345.09 540.51 345.61 540.19 346.12 539.88 346.63 539.56 347.14 539.25 347.65 538.93 348.16 538.61 348.67 538.28 349.18 537.96 349.69 537.63 350.19 537.31 350.7 536.98 351.2 536.65 351.71 536.33 352.21 536 352.72 535.67 353.22 535.34 353.73 535.02 354.23 534.69 354.74 534.36 355.24 534.03 355.75 533.71 356.26 533.38 356.76 533.06 357.27 532.73 357.78 532.41 358.29 532.09 358.8 531.77 359.31 531.45 359.82 531.13 360.33 530.81 360.84 530.49 361.35 530.18 361.86 529.86 362.38 529.55 362.89 529.23 363.4 528.92 363.92 528.6 364.43 528.29 364.94 527.97 365.46 527.66 365.97 527.34 366.48 527.03 367 526.72 367.51 526.4 368.02 526.09 368.54 525.77 369.05 525.46 369.57 525.15 370.08 524.83 370.59 524.52 371.11 524.2 371.62 523.89 372.13 523.57 372.65 523.26 373.16 522.94 373.67 522.63 374.18 522.31 374.7 522 375.21 521.68 375.72 521.36 376.23 521.05 376.74 520.73 377.25 520.41 377.77 520.09 378.28 519.77 378.79 519.46 379.3 519.14 379.81 518.82 380.32 518.5 380.83 518.18 381.34 517.86 381.85 517.54 382.36 517.21 382.86 516.89 383.37 516.57 383.88 516.24 384.39 515.92 384.89 515.59 385.4 515.27 385.9 514.94 386.41 514.61 386.91 514.28 387.42 513.96 387.92 513.63 388.42 513.3 388.93 512.96 389.43 512.63 389.93 512.3 390.43 511.97 390.93 511.63 391.44 511.3 391.94 510.97 392.44 510.63 392.94 510.3 393.44 509.96 393.94 509.63 394.44 509.29 394.94 508.96 395.44 508.62 395.94 508.28 396.44 507.95 396.94 507.61 397.44 507.28 397.94 506.94 398.43 506.6 398.93 506.27 399.43 505.93 399.93 505.6 400.43 505.26 400.93 504.93 401.43 504.59 401.93 504.26 402.44 503.92 402.94 503.59 403.44 503.26 403.94 502.92 404.44 502.59 404.94 502.26 405.44 501.93 405.95 501.59 406.45 501.26 406.95 500.93 407.46 500.6 407.96 500.27 408.47 499.95 408.97 499.62 409.48 499.29 409.98 498.97 410.49 498.64 411 498.32 411.5 497.99 412.01 497.67 412.52 497.35 413.03 497.03 413.54 496.71 414.05 496.39 414.57 496.08 415.08 495.76 415.59 495.45 416.11 495.13 416.62 494.82 417.14 494.51 417.65 494.2 418.17 493.89 418.69 493.59 419.21 493.28 419.73 492.98 420.25 492.68 420.77 492.38 421.29 492.07 421.81 491.78 422.34 491.48 422.86 491.18 423.38 490.88 423.91 490.59 424.43 490.29 424.96 490 425.48 489.71 426.01 489.42 426.54 489.12 427.07 488.83 427.59 488.55 428.12 488.26 428.65 487.97 429.18 487.68 429.71 487.4 430.24 487.11 430.77 486.83 431.3 486.55 431.83 486.26 432.37 485.98 432.9 485.7 433.43 485.42 433.97 485.14 434.5 484.86 435.03 484.59 435.57 484.31 436.1 484.03 436.64 483.76 437.18 483.49 437.71 483.21 438.25 482.94 438.79 482.67 439.32 482.4 439.86 482.13 440.4 481.86 440.94 481.59 441.48 481.32 442.02 481.06 442.56 480.79 443.1 480.53 443.64 480.26 444.18 480 444.72 479.74 445.27 479.47 445.81 479.21 446.35 478.95 446.9 478.7 447.44 478.44 447.98 478.18 448.53 477.93 449.08 477.67 449.62 477.42 450.17 477.17 450.72 476.92 451.27 476.67 451.82 476.43 452.37 476.19 452.92 475.94 453.47 475.7 454.02 475.47 454.58 475.23 455.13 474.99 455.68 474.76 456.24 474.53 456.8 474.3 457.35 474.07 457.91 473.84 458.47 473.62 459.03 473.39 459.59 473.17 460.15 472.95 460.7 472.72 461.26 472.5 461.82 472.28 462.38 472.06 462.94 471.83 463.5 471.61 464.06 471.39 464.62 471.17 465.18 470.94 465.74 470.72 466.3 470.5 466.86 470.27 467.41 470.04 467.97 469.82 468.53 469.59 469.08 469.36 469.64 469.13 470.19 468.89 470.75 468.66 471.3 468.42 471.86 468.19 472.41 467.95 472.96 467.71 473.51 467.47 474.06 467.22 474.61 466.98 475.16 466.73 475.71 466.49 476.26 466.24 476.81 466 477.36 465.75 477.91 465.5 478.46 465.25 479.01 465.01 479.56 464.76 480.1 464.51 480.65 464.26 481.2 464.02 481.75 463.77 482.3 463.52 482.85 463.28 483.4 463.04 483.95 462.79 484.5 462.55 485.06 462.31 485.61 462.07 486.16 461.83 486.71 461.6 487.27 461.36 487.82 461.13 488.38 460.9 488.94 460.67 489.5 460.45 490.05 460.22 490.61 460 491.17 459.78 491.74 459.57 492.3 459.36 492.86 459.15 493.43 458.94 494 458.74 494.56 458.54 495.13 458.34 495.7 458.15 496.27 457.95 496.84 457.77 497.42 457.58 497.99 457.4 498.56 457.22 499.14 457.04 499.72 456.87 500.29 456.7 500.87 456.53 501.45 456.36 502.03 456.2 502.61 456.03 503.19 455.87 503.77 455.72 504.35 455.56 504.93 455.41 505.51 455.26 506.1 455.11 506.68 454.96 507.27 454.82 507.85 454.67 508.44 454.53 509.02 454.39 509.61 454.26 510.19 454.12 510.78 453.99 511.37 453.86 511.96 453.73 512.55 453.6 513.13 453.48 513.72 453.35 514.31 453.23 514.9 453.11 515.49 452.99 516.08 452.88 516.67 452.76 517.27 452.65 517.86 452.54 518.45 452.43 519.04 452.32 519.63 452.21 520.23 452.11 520.82 452.01 521.41 451.91 522.01 451.81 522.6 451.71 523.2 451.61 523.79 451.52 524.38 451.43 524.98 451.34 525.58 451.25 526.17 451.16 526.77 451.08 527.36 451 527.96 450.92 528.56 450.84 529.15 450.77 529.75 450.69 530.35 450.62 530.95 450.55 531.55 450.49 532.14 450.42 532.74 450.36 533.34 450.3 533.94 450.24 534.54 450.18 535.14 450.12 535.74 450.07 536.34 450.01 536.94 449.96 537.54 449.91 538.14 449.86 538.74 449.82 539.34 449.77 539.94 449.72 540.54 449.68 541.14 449.64 541.74 449.6 542.34 449.55 542.94 449.51 543.54 449.47 544.14 449.44 544.74 449.4 545.34 449.36 545.95 449.32 546.55 449.29 547.15 449.25 547.75 449.22 548.35 449.19 548.95 449.16 549.55 449.13 550.15 449.1 550.75 449.07 551.36 449.04 551.96 449.02 552.56 448.99 553.16 448.97 553.76 448.94 554.36 448.92 554.96 448.9 555.57 448.88 556.17 448.86 556.77 448.85 557.37 448.83 557.97 448.81 558.58 448.8 559.18 448.78 559.78 448.77 560.38 448.76 560.98 448.74 561.58 448.73 562.19 448.72 562.79 448.71 563.39 448.7 563.99 448.69 564.59 448.68 565.2 448.67 565.8 448.66 566.4 448.66 567 448.65 567.6 448.64 568.21 448.63 568.81 448.63 569.41 448.62 570.01 448.62 570.61 448.61 571.22 448.61 571.82 448.6 572.42 448.6 573.02 448.59 573.62 448.59 574.23 448.58 574.83 448.58 575.43 448.57 576.03 448.57 576.63 448.57 577.24 448.56 577.84 448.56 578.44 448.56 579.04 448.55 579.64 448.55 580.25 448.55 580.85 448.54 581.45 448.54 582.05 448.54 582.65 448.53 583.26 448.53 583.86 448.53 584.46 448.52 585.06 448.52 585.66 448.51 586.27 448.51 586.87 448.5 587.47 448.5 588.07 448.49 588.67 448.49 589.27 448.48 589.87 448.48 590.46 448.47 591.04 448.47 591.62 448.46 592.18 448.45 592.73 448.45 593.25 448.44 593.74 448.44 594.2 448.43 594.61 448.43 594.99 448.42 595.31 448.42" fill="none" stroke="#9b5db5" stroke-width="1.8" stroke-linejoin="round"/>
<path d="M294.87 591.05 294.9 590.72 294.93 590.34 294.96 589.9 295 589.41 295.04 588.89 295.08 588.34 295.13 587.77 295.17 587.19 295.22 586.6 295.26 586 295.31 585.41 295.36 584.81 295.4 584.21 295.45 583.61 295.5 583.01 295.55 582.41 295.6 581.81 295.64 581.21 295.69 580.61 295.74 580.01 295.79 579.41 295.85 578.82 295.9 578.22 295.95 577.62 296 577.02 296.06 576.42 296.11 575.82 296.17 575.22 296.22 574.62 296.28 574.03 296.34 573.43 296.39 572.83 296.45 572.23 296.51 571.63 296.57 571.03 296.63 570.44 296.68 569.84 296.74 569.24 296.8 568.64 296.86 568.04 296.92 567.44 296.98 566.85 297.04 566.25 297.1 565.65 297.16 565.05 297.23 564.45 297.29 563.86 297.35 563.26 297.41 562.66 297.47 562.06 297.53 561.46 297.59 560.87 297.66 560.27 297.72 559.67 297.78 559.07 297.84 558.47 297.9 557.88 297.96 557.28 298.03 556.68 298.09 556.08 298.15 555.48 298.21 554.89 298.27 554.29 298.34 553.69 298.4 553.09 298.46 552.49 298.52 551.9 298.58 551.3 298.65 550.7 298.71 550.1 298.77 549.5 298.83 548.91 298.9 548.31 298.96 547.71 299.02 547.11 299.09 546.51 299.15 545.92 299.22 545.32 299.28 544.72 299.34 544.12 299.41 543.53 299.48 542.93 299.54 542.33 299.61 541.73 299.67 541.14 299.74 540.54 299.8 539.94 299.87 539.34 299.93 538.75 300 538.15 300.06 537.55 300.13 536.95 300.19 536.35 300.25 535.76 300.32 535.16 300.38 534.56 300.45 533.96 300.52 533.37 300.59 532.77 300.67 532.17 300.74 531.58 300.82 530.98 300.9 530.39 300.99 529.79 301.07 529.2 301.16 528.6 301.26 528.01 301.35 527.41 301.45 526.82 301.55 526.23 301.66 525.64 301.76 525.05 301.87 524.45 301.98 523.86 302.09 523.27 302.2 522.68 302.31 522.09 302.43 521.5 302.55 520.91 302.67 520.32 302.79 519.73 302.91 519.15 303.03 518.56 303.16 517.97 303.29 517.38 303.42 516.79 303.55 516.21 303.68 515.62 303.82 515.04 303.96 514.45 304.1 513.87 304.24 513.28 304.39 512.7 304.54 512.12 304.69 511.54 304.84 510.96 305 510.37 305.15 509.79 305.31 509.22 305.48 508.64 305.64 508.06 305.81 507.48 305.98 506.9 306.15 506.33 306.32 505.75 306.5 505.18 306.67 504.6 306.86 504.03 307.04 503.46 307.23 502.89 307.42 502.32 307.61 501.75 307.81 501.18 308.02 500.62 308.23 500.05 308.44 499.49 308.66 498.93 308.88 498.38 309.12 497.82 309.35 497.27 309.6 496.72 309.84 496.17 310.1 495.63 310.36 495.09 310.63 494.55 310.9 494.01 311.17 493.48 311.45 492.95 311.74 492.42 312.03 491.89 312.32 491.37 312.62 490.85 312.93 490.33 313.23 489.82 313.55 489.3 313.87 488.8 314.2 488.29 314.53 487.79 314.87 487.3 315.22 486.81 315.57 486.33 315.94 485.85 316.31 485.38 316.69 484.92 317.08 484.46 317.48 484.02 317.89 483.58 318.31 483.16 318.74 482.74 319.18 482.33 319.63 481.94 320.09 481.56 320.56 481.19 321.04 480.83 321.52 480.48 322.02 480.14 322.52 479.81 323.03 479.49 323.54 479.18 324.06 478.88 324.58 478.59 325.11 478.31 325.65 478.03 326.18 477.76 326.72 477.5 327.27 477.24 327.81 477 328.36 476.75 328.91 476.52 329.47 476.29 330.03 476.07 330.59 475.85 331.15 475.65 331.72 475.45 332.29 475.26 332.86 475.08 333.43 474.9 334.01 474.73 334.59 474.56 335.16 474.4 335.74 474.24 336.33 474.09 336.91 473.94 337.49 473.79 338.07 473.64 338.66 473.5 339.24 473.36 339.82 473.21 340.41 473.07 340.99 472.93 341.58 472.79 342.16 472.65 342.75 472.52 343.33 472.38 343.92 472.25 344.51 472.11 345.09 471.98 345.68 471.85 346.27 471.73 346.86 471.6 347.44 471.48 348.03 471.36 348.62 471.24 349.21 471.12 349.8 471 350.39 470.89 350.98 470.78 351.57 470.67 352.16 470.56 352.76 470.45 353.35 470.35 353.94 470.25 354.53 470.15 355.13 470.05 355.72 469.96 356.31 469.86 356.91 469.78 357.5 469.69 358.1 469.61 358.69 469.52 359.29 469.45 359.89 469.37 360.48 469.3 361.08 469.22 361.68 469.15 362.27 469.08 362.87 469.01 363.47 468.94 364.06 468.87 364.66 468.8 365.26 468.73 365.86 468.66 366.45 468.58 367.05 468.51 367.65 468.44 368.24 468.36 368.84 468.28 369.43 468.2 370.03 468.13 370.63 468.05 371.22 467.97 371.82 467.88 372.41 467.8 373.01 467.72 373.6 467.64 374.2 467.56 374.79 467.47 375.39 467.39 375.99 467.31 376.58 467.22 377.18 467.14 377.77 467.06 378.37 466.97 378.96 466.89 379.56 466.8 380.15 466.72 380.75 466.64 381.34 466.55 381.94 466.47 382.53 466.38 383.13 466.3 383.72 466.22 384.32 466.13 384.92 466.05 385.51 465.97 386.11 465.88 386.7 465.8 387.3 465.72 387.89 465.64 388.49 465.55 389.08 465.47 389.68 465.39 390.27 465.31 390.87 465.23 391.47 465.15 392.06 465.07 392.66 464.99 393.25 464.91 393.85 464.83 394.45 464.75 395.04 464.67 395.64 464.59 396.23 464.52 396.83 464.44 397.43 464.36 398.02 464.29 398.62 464.21 399.22 464.14 399.81 464.06 400.41 463.99 401.01 463.91 401.6 463.84 402.2 463.77 402.8 463.7 403.39 463.63 403.99 463.56 404.59 463.49 405.18 463.42 405.78 463.35 406.38 463.29 406.98 463.22 407.57 463.16 408.17 463.09 408.77 463.03 409.37 462.96 409.97 462.9 410.56 462.84 411.16 462.78 411.76 462.72 412.36 462.66 412.96 462.6 413.55 462.54 414.15 462.48 414.75 462.43 415.35 462.37 415.95 462.31 416.55 462.26 417.15 462.2 417.74 462.15 418.34 462.09 418.94 462.04 419.54 461.98 420.14 461.93 420.74 461.88 421.34 461.83 421.94 461.77 422.54 461.72 423.13 461.67 423.73 461.62 424.33 461.57 424.93 461.52 425.53 461.47 426.13 461.42 426.73 461.37 427.33 461.32 427.93 461.27 428.53 461.22 429.12 461.17 429.72 461.12 430.32 461.07 430.92 461.03 431.52 460.98 432.12 460.93 432.72 460.88 433.32 460.84 433.92 460.79 434.52 460.74 435.12 460.69 435.72 460.65 436.32 460.6 436.92 460.55 437.52 460.51 438.11 460.46 438.71 460.41 439.31 460.37 439.91 460.32 440.51 460.28 441.11 460.23 441.71 460.18 442.31 460.14 442.91 460.09 443.51 460.05 444.11 460 444.71 459.95 445.31 459.91 445.91 459.86 446.51 459.81 447.11 459.77 447.7 459.72 448.3 459.67 448.9 459.63 449.5 459.58 450.1 459.53 450.7 459.49 451.3 459.44 451.9 459.39 452.5 459.35 453.1 459.3 453.7 459.25 454.3 459.2 454.9 459.16 455.5 459.11 456.1 459.07 456.7 459.02 457.29 458.97 457.89 458.93 458.49 458.88 459.09 458.84 459.69 458.79 460.29 458.75 460.89 458.7 461.49 458.66 462.09 458.61 462.69 458.57 463.29 458.52 463.89 458.48 464.49 458.44 465.09 458.39 465.69 458.35 466.29 458.31 466.89 458.26 467.49 458.22 468.09 458.17 468.69 458.13 469.29 458.09 469.88 458.04 470.48 458 471.08 457.96 471.68 457.91 472.28 457.87 472.88 457.83 473.48 457.78 474.08 457.74 474.68 457.69 475.28 457.65 475.88 457.61 476.48 457.56 477.08 457.52 477.68 457.47 478.28 457.43 478.88 457.38 479.48 457.34 480.08 457.29 480.68 457.25 481.28 457.2 481.88 457.15 482.47 457.11 483.07 457.06 483.67 457.01 484.27 456.97 484.87 456.92 485.47 456.87 486.07 456.82 486.67 456.78 487.27 456.73 487.87 456.68 488.47 456.63 489.07 456.58 489.67 456.53 490.27 456.48 490.86 456.43 491.46 456.39 492.06 456.34 492.66 456.29 493.26 456.24 493.86 456.19 494.46 456.14 495.06 456.09 495.66 456.04 496.26 455.99 496.86 455.94 497.46 455.89 498.05 455.85 498.65 455.8 499.25 455.75 499.85 455.7 500.45 455.65 501.05 455.6 501.65 455.56 502.25 455.51 502.85 455.46 503.45 455.41 504.05 455.37 504.65 455.32 505.25 455.27 505.85 455.23 506.44 455.18 507.04 455.14 507.64 455.09 508.24 455.04 508.84 455 509.44 454.95 510.04 454.91 510.64 454.87 511.24 454.82 511.84 454.78 512.44 454.74 513.04 454.69 513.64 454.65 514.24 454.61 514.84 454.57 515.44 454.53 516.04 454.48 516.64 454.44 517.24 454.4 517.84 454.36 518.44 454.32 519.04 454.28 519.64 454.25 520.24 454.21 520.84 454.17 521.44 454.13 522.04 454.1 522.64 454.06 523.24 454.02 523.84 453.99 524.44 453.95 525.04 453.92 525.64 453.88 526.24 453.85 526.84 453.81 527.44 453.78 528.04 453.74 528.64 453.71 529.24 453.68 529.84 453.64 530.44 453.61 531.04 453.58 531.64 453.55 532.24 453.51 532.84 453.48 533.44 453.45 534.04 453.42 534.64 453.39 535.24 453.36 535.84 453.33 536.44 453.3 537.04 453.27 537.64 453.23 538.24 453.2 538.84 453.18 539.45 453.15 540.05 453.12 540.65 453.09 541.25 453.06 541.85 453.03 542.45 453 543.05 452.97 543.65 452.94 544.25 452.91 544.85 452.89 545.45 452.86 546.05 452.83 546.65 452.8 547.25 452.77 547.85 452.75 548.45 452.72 549.05 452.69 549.65 452.66 550.25 452.64 550.85 452.61 551.46 452.58 552.06 452.55 552.66 452.53 553.26 452.5 553.86 452.47 554.46 452.45 555.06 452.42 555.66 452.39 556.26 452.37 556.86 452.34 557.46 452.31 558.06 452.29 558.66 452.26 559.26 452.23 559.86 452.21 560.46 452.18 561.06 452.16 561.67 452.13 562.27 452.1 562.87 452.08 563.47 452.05 564.07 452.03 564.67 452 565.27 451.97 565.87 451.95 566.47 451.92 567.07 451.9 567.67 451.87 568.27 451.84 568.87 451.82 569.47 451.79 570.07 451.77 570.67 451.74 571.28 451.72 571.88 451.69 572.48 451.66 573.08 451.64 573.68 451.61 574.28 451.59 574.88 451.56 575.48 451.53 576.08 451.51 576.68 451.48 577.28 451.46 577.88 451.43 578.48 451.41 579.08 451.38 579.68 451.35 580.28 451.33 580.89 451.3 581.49 451.27 582.09 451.25 582.69 451.22 583.29 451.2 583.89 451.17 584.49 451.14 585.09 451.12 585.69 451.09 586.29 451.06 586.89 451.04 587.49 451.01 588.09 450.98 588.69 450.96 589.29 450.93 589.89 450.9 590.49 450.88 591.09 450.85 591.68 450.82 592.26 450.8 592.83 450.77 593.38 450.74 593.91 450.72 594.39 450.7 594.83 450.68 595.22 450.66 595.55 450.64" fill="none" stroke="#141414" stroke-width="2.2" stroke-linejoin="round"/>
<path d="M461.2 436.5 L456.46 447.74" stroke="#111" stroke-width="1.4"/><path d="M451.8 458.8 L453.44 445.38 L460.26 448.26 Z" fill="#111"/>
<path d="M359.3 517.4 L379.7 527.27" stroke="#111" stroke-width="1.4"/><path d="M390.5 532.5 L377.19 530.17 L380.41 523.51 Z" fill="#111"/>
<path d="M443.5 580 L445.17 552.48" stroke="#111" stroke-width="1.4"/><path d="M445.9 540.5 L448.8 553.7 L441.42 553.25 Z" fill="#111"/>
<path d="M531.6 418.6 L536.05 437.52" stroke="#111" stroke-width="1.4"/><path d="M538.8 449.2 L532.22 437.39 L539.42 435.7 Z" fill="#111"/>
<path d="M534.9 477 L529.69 485.11" stroke="#111" stroke-width="1.4"/><path d="M523.2 495.2 L527.12 482.26 L533.34 486.27 Z" fill="#111"/>
<path d="M507.7 577 L502.84 567.65" stroke="#111" stroke-width="1.4"/><path d="M497.3 557 L506.58 566.83 L500.01 570.24 Z" fill="#111"/>
<g font-family="'Liberation Serif', serif" fill="#111">
<text x="461.8" y="429" font-size="19.5" text-anchor="middle">0</text>
<text x="334" y="498.2" font-size="19.5" textLength="60" lengthAdjust="spacingAndGlyphs">4 000 h</text>
<text x="503.8" y="414.7" font-size="19.5" textLength="60.2" lengthAdjust="spacingAndGlyphs">8 000 h</text>
<text x="523.2" y="472.6" font-size="19.5" textLength="60.3" lengthAdjust="spacingAndGlyphs">5 000 h</text>
<text x="409.3" y="596" font-size="19.5" textLength="60.4" lengthAdjust="spacingAndGlyphs">6 000 h</text>
<text x="486" y="595.2" font-size="19.5" textLength="59.8" lengthAdjust="spacingAndGlyphs">7 000 h</text>
</g>
<path d="M732.9 368.6 V610.0 H1035.8" fill="none" stroke="#222" stroke-width="1.4"/>
<path d="M732.9 610 h5 M732.9 561.7 h5 M732.9 513.4 h5 M732.9 465.1 h5 M732.9 416.8 h5 M732.9 368.5 h5 M833.6 610 v-5 M934.3 610 v-5 M1035 610 v-5" stroke="#222" stroke-width="1.2"/>
<path d="M732.9 458.3 H1035" stroke="#111" stroke-width="1.4" stroke-dasharray="2.9 1.1"/>
<g font-family="'Liberation Serif', serif" fill="#111">
<text x="724.3" y="616.3" font-size="19.5" text-anchor="end">0</text>
<text x="724.3" y="568" font-size="19.5" text-anchor="end">0.2</text>
<text x="724.3" y="519.7" font-size="19.5" text-anchor="end">0.4</text>
<text x="724.3" y="471.4" font-size="19.5" text-anchor="end">0.6</text>
<text x="724.3" y="423.1" font-size="19.5" text-anchor="end">0.8</text>
<text x="724.3" y="374.8" font-size="19.5" text-anchor="end">1.0</text>
<text x="732.9" y="636.4" font-size="19.5" text-anchor="middle">0</text>
<text x="833.6" y="636.4" font-size="19.5" text-anchor="middle">50</text>
<text x="934.3" y="636.4" font-size="19.5" text-anchor="middle">100</text>
<text x="1035" y="636.4" font-size="19.5" text-anchor="middle">150</text>
<text x="825.3" y="662.6" font-size="19" textLength="78" lengthAdjust="spacingAndGlyphs">渗透时间</text>
<text x="903.4" y="662.6" font-size="19.5" textLength="39.6" lengthAdjust="spacingAndGlyphs">/min</text>
<text x="771" y="689" font-size="20" textLength="29.3" lengthAdjust="spacingAndGlyphs" font-weight="bold">(b)</text>
<text x="807.3" y="689.5" font-size="19.5" textLength="140" lengthAdjust="spacingAndGlyphs">归一化扩散曲线</text>
<text transform="translate(691 494) rotate(-90)" font-size="20.5" text-anchor="middle" textLength="148" lengthAdjust="spacingAndGlyphs">归一化扩散速率</text>
<text x="1005.3" y="479.4" font-size="19.5" textLength="34" lengthAdjust="spacingAndGlyphs">0.63</text>
<text x="799" y="391.5" font-size="19.5" textLength="60.6" lengthAdjust="spacingAndGlyphs">5 000 h</text>
<text x="769" y="505" font-size="19.5" textLength="60.6" lengthAdjust="spacingAndGlyphs">4 000 h</text>
<text x="897.7" y="425.3" font-size="19.5" textLength="60.1" lengthAdjust="spacingAndGlyphs">7 000 h</text>
<text x="957.7" y="523.4" font-size="19.5" textLength="61.3" lengthAdjust="spacingAndGlyphs">6 000 h</text>
<text x="920.2" y="586.2" font-size="19.5" textLength="60.7" lengthAdjust="spacingAndGlyphs">8 000 h</text>
</g>
<path d="M735.1 609.72 735.42 610.37 735.76 609.71 736.14 610.42 736.54 609.99 736.97 610.12 737.42 610.27 737.9 610.03 738.4 609.81 738.91 609.7 739.44 609.59 739.99 610.25 740.54 609.96 741.11 609.68 741.68 610.41 742.26 609.8 742.85 609.95 743.44 609.83 744.03 610.17 744.63 610.13 745.23 610.15 745.83 609.83 746.42 609.85 747.02 609.83 747.63 609.91 748.23 609.73 748.83 609.76 749.43 610.57 750.03 610.57 750.63 609.81 751.23 609.65 751.83 609.84 752.43 610.35 753.03 610.43 753.64 609.69 754.24 610.25 754.84 609.69 755.44 610.21 756.04 610.34 756.64 610.7 757.24 609.98 757.84 610.54 758.44 610.62 759.04 610.68 759.65 609.77 760.25 610.25 760.85 610.77 761.45 610.2 762.05 610.63 762.65 610.37 763.25 610.61 763.85 610.33 764.45 609.89 765.05 609.96 765.66 610 766.26 610.15 766.86 610.87 767.46 610.55 768.06 610.75 768.66 610.51 769.26 610.59 769.86 610.78 770.46 610.91 771.06 610.91 771.66 610.83 772.27 610.11 772.87 610.39 773.47 610.08 774.07 610.6 774.67 610.86 775.27 610.13 775.87 610.28 776.47 610.47 777.07 610.36 777.67 610.92 778.28 610.49 778.88 610.78 779.48 610.65 780.08 610.75 780.68 611.12 781.28 611.13 781.88 610.31 782.48 611.05 783.08 610.57 783.68 610.33 784.29 610.62 784.89 610.76 785.49 611.22 786.09 610.64 786.69 610.29 787.29 611.15 787.89 610.41 788.49 610.78 789.09 611.16 789.69 610.84 790.3 610.78 790.9 611.14 791.5 610.36 792.1 610.92 792.7 610.77 793.3 611.35 793.9 611.17 794.5 610.43 795.1 610.57 795.7 610.84 796.31 611.09 796.91 610.73 797.51 610.76 798.11 611.32 798.71 611.36 799.31 610.81 799.91 611.31 800.51 610.74 801.11 610.49 801.72 610.94 802.32 611.07 802.92 611.3 803.52 611.37 804.12 611.18 804.72 611.16 805.32 611.11 805.92 611.1 806.52 611.16 807.12 611.36 807.73 610.76 808.33 610.46 808.93 610.61 809.53 610.58 810.13 610.72 810.73 611.15 811.33 610.39 811.93 610.77 812.53 611.12 813.13 610.56 813.74 610.35 814.34 610.51 814.94 610.34 815.54 611.04 816.14 610.39 816.74 610.39 817.34 610.99 817.94 610.96 818.54 610.72 819.14 611.02 819.74 610.14 820.34 611.01 820.94 610.59 821.54 610.29 822.14 610.78 822.74 610.58 823.34 610.87 823.94 609.95 824.54 610.38 825.14 610.23 825.74 610.36 826.34 609.91 826.94 609.64 827.53 610.1 828.13 609.87 828.73 610.33 829.33 609.84 829.92 609.73 830.52 609.87 831.11 609.69 831.71 610.05 832.3 609.79 832.9 609.41 833.49 609.04 834.08 609.33 834.67 609.38 835.26 609.28 835.85 609.4 836.44 608.51 837.03 608.6 837.61 608.47 838.2 608.23 838.78 608.14 839.36 608.11 839.95 608.03 840.53 607.6 841.1 607.31 841.68 607.32 842.26 606.98 842.83 606.99 843.41 607.18 843.98 606.93 844.55 607.14 845.12 606.52 845.69 606.32 846.26 606.22 846.83 606.12 847.4 605.81 847.97 605.59 848.54 605.42 849.11 604.97 849.68 605.2 850.25 604.84 850.82 604.35 851.39 604.1 851.96 603.74 852.53 603.83 853.1 603.31 853.67 603.27 854.24 602.99 854.82 603.02 855.39 602.91 855.96 602.98 856.54 602.98 857.11 602.65 857.69 602.01 858.26 602.57 858.83 602.23 859.41 601.82 859.98 601.79 860.55 601.47 861.13 600.95 861.7 601.24 862.27 601.4 862.84 600.99 863.41 600.21 863.98 599.96 864.54 600.57 865.11 600.34 865.67 599.98 866.23 599.77 866.79 598.94 867.35 599.39 867.9 598.54 868.45 598.27 869 598.28 869.55 597.63 870.09 598.23 870.63 597.29 871.17 597.6 871.71 597.18 872.24 597.09 872.77 596.65 873.3 596.72 873.82 595.85 874.34 595.67 874.86 595.22 875.38 595.32 875.89 594.56 876.41 594.75 876.91 593.72 877.42 593.55 877.93 593.43 878.43 592.79 878.93 592.53 879.43 592.84 879.93 592.03 880.42 591.54 880.92 591.82 881.41 591.21 881.9 590.92 882.39 590.83 882.87 590.3 883.36 589.5 883.84 588.89 884.32 589.07 884.8 588.87 885.28 588.6 885.76 587.62 886.23 587.69 886.7 587.62 887.16 586.56 887.62 586.22 888.08 585.96 888.54 585.72 888.99 585.74 889.43 584.94 889.88 584.84 890.32 584.2 890.75 583.6 891.18 583.02 891.6 582.64 892.03 582.64 892.44 581.61 892.86 581.14 893.26 580.78 893.67 580.79 894.07 580.05 894.47 579.44 894.87 579.11 895.26 578.41 895.65 578.31 896.04 578.23 896.43 577.4 896.81 576.94 897.2 576.06 897.58 575.84 897.96 575.17 898.33 574.68 898.71 575.03 899.08 574.41 899.45 574.05 899.82 572.88 900.19 572.64 900.56 572.71 900.93 571.75 901.29 571.77 901.66 571.33 902.02 569.89 902.38 569.84 902.74 569.51 903.1 568.79 903.45 568.33 903.81 567.83 904.16 567.22 904.51 566.52 904.86 566.74 905.21 566.52 905.55 565.07 905.9 565.39 906.24 564.59 906.58 563.57 906.92 563.12 907.25 563.08 907.59 562.16 907.92 561.85 908.25 561.32 908.57 561.51 908.89 560.51 909.21 559.81 909.53 559.96 909.84 559.47 910.15 558.71 910.45 557.61 910.75 557.84 911.05 556.87 911.34 556.69 911.63 556.1 911.91 555.51 912.19 555.09 912.46 554.6 912.73 553.71 912.99 553.2 913.25 552.27 913.51 552 913.76 551.97 914.01 550.76 914.25 550.74 914.49 550.25 914.73 549.09 914.96 549.1 915.19 548.44 915.42 548.2 915.64 547.06 915.87 546.87 916.09 546.4 916.31 545.37 916.52 544.66 916.74 544.24 916.96 543.96 917.17 543.01 917.38 543.05 917.6 541.92 917.81 541.83 918.02 540.82 918.23 540.44 918.45 540.25 918.66 539.3 918.87 538.88 919.08 538.03 919.29 537.59 919.5 536.62 919.71 536.52 919.92 535.89 920.13 535.17 920.34 534.48 920.55 534.09 920.75 533.48 920.96 532.98 921.17 532.86 921.37 532.38 921.58 531.84 921.78 530.78 921.98 530.69 922.19 529.81 922.39 529.66 922.59 528.22 922.8 528.28 923 527.55 923.2 526.91 923.4 526.59 923.6 526.1 923.8 525.53 924 524.47 924.2 523.94 924.4 523.59 924.61 522.47 924.81 522.68 925.01 521.88 925.21 521.17 925.41 520.8 925.61 520.55 925.81 519.84 926.01 519.12 926.21 518.11 926.42 518.3 926.62 517.15 926.82 517.11 927.02 516.14 927.23 515.74 927.43 515.39 927.64 514 927.84 513.67 928.05 512.99 928.25 512.29 928.46 512.02 928.67 512.03 928.87 510.8 929.08 510.1 929.29 510.36 929.5 509.35 929.71 508.77 929.92 508.42 930.13 507.99 930.34 506.83 930.55 506.25 930.76 505.9 930.97 505.77 931.18 505.28 931.39 503.98 931.61 503.92 931.82 503.11 932.03 502.98 932.24 501.84 932.46 501.25 932.67 500.44 932.89 500.73 933.1 499.46 933.31 499.01 933.53 498.42 933.74 498.53 933.96 497.13 934.17 496.83 934.39 496.61 934.6 495.53 934.82 495.38 935.04 494.67 935.25 493.7 935.47 493.73 935.68 492.91 935.9 492.21 936.12 492.42 936.33 491.72 936.55 490.77 936.77 490.08 936.99 489.21 937.2 489.37 937.42 488.35 937.64 488.03 937.86 487.58 938.07 487.15 938.29 486 938.51 485.37 938.73 485.49 938.95 484.21 939.16 484 939.38 483.07 939.6 482.69 939.82 482.11 940.04 482.2 940.26 481.54 940.48 480.48 940.7 480.27 940.92 479.61 941.14 478.65 941.36 478.36 941.58 478.19 941.8 477.01 942.02 476.56 942.24 476.12 942.46 475.21 942.68 475.42 942.9 474.48 943.12 474.17 943.34 473.5 943.57 473.19 943.79 472.51 944.01 471.69 944.23 470.86 944.46 470.6 944.68 469.62 944.9 469.14 945.12 469.33 945.35 468.46 945.57 468.18 945.8 467.57 946.02 466.8 946.24 466.44 946.47 466.1 946.69 465.55 946.91 464.29 947.14 464.39 947.36 463.39 947.59 462.57 947.81 462.22 948.03 461.83 948.26 461.58 948.48 461.04 948.7 460.13 948.92 459.82 949.15 458.99 949.37 458 949.59 457.78 949.81 457.48 950.03 456.98 950.26 456.34 950.48 455.11 950.7 455.23 950.92 454.97 951.14 453.64 951.36 453.58 951.58 452.51 951.8 452.52 952.02 452.13 952.24 450.84 952.47 450.9 952.69 449.82 952.91 449.84 953.13 448.43 953.35 448.6 953.57 447.5 953.8 447.09 954.02 446.32 954.24 446.41 954.47 445.25 954.69 444.85 954.91 444.3 955.14 443.64 955.36 443.04 955.59 443.01 955.82 442.28 956.05 441.92 956.27 440.75 956.5 440.58 956.73 439.56 956.96 439.02 957.19 438.8 957.42 438.41 957.65 437.98 957.89 437.28 958.12 436.23 958.35 435.98 958.58 435.78 958.82 435.44 959.05 434.84 959.29 433.88 959.52 433.77 959.76 432.53 959.99 432.34 960.23 431.93 960.46 430.62 960.7 430.15 960.94 429.84 961.18 429.18 961.41 428.58 961.65 428.41 961.89 427.95 962.13 427.24 962.37 426.9 962.6 425.97 962.84 425.47 963.08 424.68 963.32 424.21 963.56 423.93 963.8 423.72 964.04 422.82 964.28 422.68 964.52 422.18 964.76 421.46 965 420.92 965.25 419.6 965.49 419.73 965.73 418.52 965.97 418.69 966.21 417.81 966.45 416.92 966.7 417.22 966.94 415.92 967.18 416.15 967.42 415.42 967.67 415.01 967.91 414.17 968.16 413.34 968.4 413.14 968.65 412.35 968.89 412.08 969.14 411.75 969.39 410.31 969.64 409.87 969.88 409.58 970.13 408.63 970.39 408.42 970.64 407.94 970.89 407.14 971.14 406.47 971.4 406.52 971.66 405.57 971.91 405.49 972.17 404.67 972.43 404.61 972.69 403.47 972.95 403.17 973.21 402.37 973.48 402.49 973.74 401.28 974.01 401.14 974.27 400.28 974.54 400.07 974.81 399.47 975.07 399.09 975.34 398.4 975.61 397.69 975.88 397.15 976.15 396.32 976.42 395.74 976.69 395.24 976.96 395.48 977.23 394.69 977.5 394.39 977.78 393.56 978.05 392.63 978.33 391.89 978.61 391.89 978.9 391.8 979.18 391.09 979.48 389.84 979.77 389.62 980.07 388.87 980.38 388.49 980.69 388.39 981.01 387.53 981.34 387.22 981.67 386.5 982.01 386.13 982.35 385.61 982.7 385.33 983.06 384.35 983.43 384.79 983.8 383.47 984.18 382.93 984.56 383.33 984.96 382.33 985.36 381.53 985.76 381.34 986.17 381.46 986.59 380.97 987.02 380.45 987.45 380.22 987.88 379.46 988.33 379.51 988.78 378.47 989.23 378.32 989.7 378.28 990.16 377.62 990.64 376.96 991.12 376.71 991.61 376.9 992.1 376.23 992.6 375.73 993.11 375.7 993.62 374.92 994.14 375.22 994.66 374.56 995.19 374.44 995.73 374 996.26 374.26 996.8 373.33 997.35 373.78 997.9 373.34 998.45 372.64 999.01 372.4 999.57 372.29 1000.13 372.27 1000.7 372.58 1001.27 372.23 1001.84 371.56 1002.41 371.57 1002.99 370.97 1003.56 371.55 1004.14 371.33 1004.72 371.12 1005.3 370.94 1005.89 370.28 1006.47 370.61 1007.06 370.58 1007.64 370.5 1008.23 370.68 1008.82 370.03 1009.41 369.87 1010 370 1010.59 370.13 1011.19 370.33 1011.78 370.19 1012.37 369.95 1012.96 369.82 1013.56 370.19 1014.15 369.83 1014.74 369.92 1015.33 369.56 1015.92 370.11 1016.51 369.88 1017.1 370.72 1017.68 369.94 1018.27 369.99 1018.85 370.57 1019.44 371.16 1020.02 370.57 1020.61 370.56 1021.19 370.65 1021.77 370.71 1022.35 371.46 1022.93 371.34 1023.51 371.96 1024.09 371.5 1024.67 371.98 1025.25 371.63 1025.82 372.04 1026.39 372.77 1026.96 372.6 1027.53 372.6 1028.08 373.2 1028.63 372.75 1029.18 372.6 1029.71 373.11 1030.22 373.36 1030.72 373.69 1031.21 373.37 1031.67 373.62 1032.12 374.09 1032.54 373.93 1032.93 373.65 1033.29 374.39 1033.63 374.1 1033.94 374.44" fill="none" stroke="#9b6cc0" stroke-width="1.8" stroke-linejoin="round"/>
<path d="M734.15 610.18 734.48 609.82 734.86 610.09 735.31 609.59 735.79 609.6 736.31 609.86 736.86 609.79 737.43 609.68 738.02 609.6 738.61 609.74 739.2 609.59 739.8 609.74 740.4 609.57 741 609.58 741.6 609.59 742.2 609.76 742.8 609.63 743.4 609.36 744 609.61 744.6 609.55 745.2 609.06 745.8 609.44 746.4 609.46 747 609.4 747.6 609.36 748.21 609.23 748.81 608.96 749.41 609.44 750.01 609.08 750.61 608.95 751.21 609.22 751.81 609.37 752.41 608.9 753.01 609.13 753.61 609.06 754.21 609.11 754.81 609.22 755.41 608.85 756.01 608.77 756.61 608.83 757.22 609.02 757.82 608.98 758.42 608.77 759.02 609.09 759.62 608.75 760.22 608.68 760.82 608.86 761.42 608.46 762.02 608.62 762.62 608.82 763.22 608.8 763.82 608.48 764.42 608.4 765.02 608.55 765.62 608.44 766.22 608.65 766.82 608.3 767.43 608.36 768.03 608.64 768.63 608.48 769.23 608.61 769.83 608.64 770.43 608.53 771.03 608.1 771.63 608.34 772.23 608.22 772.83 608.15 773.43 608.32 774.03 608.34 774.63 608.22 775.23 607.86 775.83 608.17 776.43 607.76 777.03 607.81 777.63 608.22 778.23 607.88 778.83 607.7 779.43 607.99 780.03 607.65 780.63 607.92 781.23 607.66 781.83 607.5 782.44 608.03 783.04 607.46 783.64 607.7 784.24 607.57 784.84 607.73 785.44 607.8 786.04 607.62 786.64 607.57 787.24 607.25 787.83 607.56 788.43 607.21 789.03 607.33 789.63 607 790.23 607.11 790.83 607.37 791.42 607.12 792.02 607.03 792.61 606.85 793.21 607.04 793.8 606.62 794.4 606.44 794.99 606.6 795.58 606.32 796.17 606.52 796.76 606.05 797.35 606.3 797.94 606.07 798.53 605.61 799.12 605.79 799.7 605.73 800.29 605.76 800.87 605.53 801.46 605.37 802.04 605.07 802.63 604.65 803.21 604.97 803.79 604.34 804.37 604.51 804.95 604.36 805.53 603.93 806.11 603.74 806.69 603.88 807.27 603.66 807.84 603.39 808.42 603.06 809 603.25 809.57 602.77 810.15 602.53 810.72 602.51 811.3 602.35 811.87 602.1 812.44 601.85 813.02 602.09 813.59 601.68 814.16 601.41 814.73 601.39 815.31 601.04 815.88 601.21 816.45 600.8 817.02 600.7 817.59 600.71 818.16 600.15 818.73 599.88 819.3 600.14 819.86 599.71 820.43 599.75 821 599.55 821.57 599.19 822.14 598.58 822.7 598.74 823.27 598.32 823.84 598.05 824.4 597.98 824.97 597.68 825.53 597.81 826.09 597.7 826.66 596.95 827.22 596.88 827.78 596.67 828.34 596.38 828.9 596.65 829.46 596.01 830.02 595.85 830.58 595.45 831.14 595.34 831.7 595.5 832.25 595.32 832.81 594.91 833.36 594.46 833.92 594.08 834.47 594.33 835.02 593.67 835.57 593.5 836.12 593.42 836.67 593 837.22 593.11 837.77 592.65 838.31 592.39 838.86 592.39 839.4 592.14 839.94 591.48 840.49 591.08 841.03 591.21 841.57 590.71 842.11 590.29 842.64 590.07 843.18 589.99 843.72 589.54 844.25 589.32 844.79 589.37 845.32 588.92 845.85 588.44 846.39 588.22 846.92 588.37 847.45 587.53 847.98 587.63 848.5 587.34 849.03 587.07 849.56 586.72 850.08 586.55 850.61 586.28 851.13 585.88 851.65 585.31 852.18 585.33 852.7 584.77 853.21 584.8 853.73 584.33 854.25 583.73 854.76 583.92 855.28 583.34 855.79 583.31 856.3 582.46 856.81 582.18 857.32 582.25 857.83 581.5 858.33 581.42 858.84 581.31 859.34 580.74 859.84 580.27 860.34 580.33 860.84 579.55 861.33 579.32 861.83 578.94 862.32 578.74 862.81 578.31 863.3 578.31 863.79 577.88 864.27 577.48 864.75 576.78 865.23 576.7 865.71 576.48 866.19 576.16 866.66 575.63 867.13 575.02 867.6 574.65 868.07 574.49 868.53 574.16 869 573.53 869.46 573.37 869.92 572.87 870.37 572.68 870.83 572.2 871.28 571.94 871.73 571.07 872.18 571.1 872.63 570.76 873.07 570.14 873.52 569.39 873.96 569 874.4 568.82 874.84 568.44 875.28 568.04 875.72 567.75 876.15 567.38 876.59 567 877.02 566.3 877.45 566.05 877.88 565.49 878.31 565.27 878.74 564.75 879.17 564.35 879.6 563.8 880.02 563.53 880.45 563.24 880.87 562.69 881.3 561.95 881.72 561.5 882.14 561.42 882.56 560.8 882.98 560.35 883.41 560.26 883.83 559.82 884.24 559.35 884.66 558.65 885.08 558.39 885.5 557.93 885.91 557.28 886.33 557.06 886.74 556.87 887.16 555.86 887.57 555.54 887.98 555.16 888.39 555 888.8 554.34 889.21 553.67 889.62 553.38 890.02 553.25 890.43 552.75 890.83 552.03 891.23 551.85 891.63 551.16 892.03 550.61 892.43 550.65 892.82 549.77 893.22 549.52 893.61 549.26 894.01 548.64 894.4 548.05 894.79 547.57 895.17 546.91 895.56 546.47 895.95 546.23 896.33 546.05 896.72 545.17 897.1 545.09 897.48 544.59 897.86 543.74 898.24 543.36 898.61 542.96 898.99 542.75 899.36 542.14 899.74 541.79 900.11 541.12 900.48 540.69 900.85 540.14 901.21 539.55 901.58 539.29 901.94 538.78 902.3 538.48 902.66 538.03 903.02 537.34 903.38 536.93 903.73 536.26 904.09 535.95 904.44 535.65 904.79 535.13 905.14 534.16 905.49 534.15 905.83 533.12 906.18 532.62 906.52 532.21 906.86 531.8 907.21 531.71 907.55 531.19 907.89 530.59 908.23 530.01 908.56 529.72 908.9 528.98 909.24 528.27 909.57 527.72 909.91 527.6 910.25 526.96 910.58 526.64 910.91 526.12 911.25 525.55 911.58 525.11 911.92 524.56 912.25 523.9 912.58 523.64 912.92 523.2 913.25 522.61 913.58 521.7 913.92 521.72 914.25 520.93 914.58 520.68 914.92 519.7 915.25 519.71 915.59 518.84 915.92 518.4 916.26 518.06 916.6 517.21 916.93 516.78 917.27 516.51 917.61 515.89 917.95 515.23 918.29 514.68 918.63 514.71 918.97 514.08 919.32 513.38 919.66 513.23 920 512.78 920.34 511.76 920.69 511.37 921.03 511.04 921.37 510.78 921.72 509.87 922.06 509.8 922.4 509.28 922.74 508.45 923.08 507.89 923.42 507.37 923.76 506.8 924.1 506.84 924.44 505.86 924.78 505.85 925.11 504.98 925.44 504.31 925.78 504.26 926.11 503.75 926.44 503.04 926.76 502.72 927.09 502.21 927.41 501.52 927.73 500.91 928.05 500.32 928.37 500.27 928.68 499.26 929 499.13 929.31 498.23 929.62 498.07 929.93 497.19 930.23 496.7 930.54 496.4 930.84 495.65 931.14 495.1 931.44 494.94 931.74 494.57 932.04 493.8 932.33 493.49 932.63 492.89 932.92 492.5 933.22 492 933.51 491.24 933.8 490.93 934.09 490.26 934.38 489.59 934.66 489.33 934.95 488.6 935.23 487.87 935.52 487.43 935.8 486.92 936.08 486.23 936.36 485.62 936.64 485.1 936.92 484.94 937.2 484.16 937.47 483.56 937.74 483.05 938.02 482.89 938.29 482.4 938.56 481.6 938.83 481.23 939.1 480.59 939.36 480 939.63 479.56 939.89 479.2 940.15 478.57 940.41 477.79 940.67 477.16 940.92 476.46 941.18 476.09 941.43 475.96 941.68 475.08 941.92 474.6 942.16 473.76 942.4 473.26 942.63 473.21 942.86 472.38 943.09 471.64 943.31 471.33 943.53 470.82 943.74 470.13 943.95 469.46 944.16 469.13 944.37 468.21 944.57 468 944.77 467.27 944.98 466.75 945.18 466.25 945.38 465.82 945.58 464.93 945.79 464.59 945.99 463.68 946.2 463.31 946.42 462.91 946.63 462.46 946.85 461.7 947.07 461.19 947.3 460.57 947.54 459.9 947.77 459.65 948.01 458.94 948.26 458.2 948.51 457.98 948.77 457.46 949.03 456.69 949.29 456.28 949.56 455.39 949.83 455.24 950.1 454.47 950.38 453.75 950.66 453.62 950.94 453 951.22 452.63 951.5 451.68 951.79 451.68 952.08 450.75 952.36 450.1 952.65 449.52 952.94 449.16 953.23 448.57 953.53 448.26 953.82 447.97 954.11 447 954.4 446.54 954.69 445.98 954.98 445.45 955.27 445.18 955.56 444.77 955.85 444.06 956.14 443.42 956.42 442.91 956.71 442.45 956.99 441.78 957.27 441.22 957.55 441.07 957.83 440.3 958.1 439.53 958.38 439.27 958.65 438.54 958.92 437.86 959.19 437.66 959.45 436.99 959.72 436.65 959.98 436.07 960.24 435.26 960.51 434.8 960.77 434.5 961.03 433.79 961.29 433.07 961.55 432.55 961.8 432.34 962.06 431.74 962.32 431.15 962.58 430.31 962.84 429.97 963.1 429.46 963.36 429 963.62 428.52 963.88 428 964.14 427.38 964.4 426.65 964.66 426.19 964.93 425.87 965.19 425.14 965.46 424.57 965.73 424.3 966 423.85 966.27 422.97 966.55 422.56 966.83 422.2 967.1 421.21 967.39 420.76 967.67 420.45 967.96 419.64 968.25 419.17 968.54 419.04 968.84 418.15 969.14 417.49 969.44 417.22 969.75 416.45 970.06 416.03 970.37 415.94 970.68 415.36 971 414.44 971.32 413.99 971.64 413.36 971.97 412.95 972.29 412.81 972.62 412.37 972.95 411.69 973.29 410.87 973.62 410.62 973.96 410.22 974.3 409.39 974.64 409.18 974.98 408.79 975.32 408.07 975.67 407.84 976.01 406.96 976.36 406.52 976.71 406.36 977.06 405.8 977.41 405.37 977.76 404.52 978.11 404.49 978.46 403.54 978.81 403.37 979.17 402.65 979.52 402.28 979.87 402.04 980.23 401.47 980.58 400.97 980.94 400.1 981.29 400.1 981.65 399.61 982.01 399.17 982.36 398.17 982.72 397.85 983.08 397.3 983.45 397.16 983.81 396.71 984.17 396 984.54 395.35 984.9 394.77 985.27 394.79 985.63 394.36 986 393.77 986.37 393.33 986.74 392.55 987.11 391.97 987.48 391.48 987.85 391.35 988.22 390.56 988.59 390.55 988.96 389.67 989.34 389.5 989.71 388.95 990.08 388.32 990.45 388.01 990.82 387.17 991.19 387.15 991.56 386.32 991.93 386.11 992.29 385.33 992.65 385.12 993.01 384.74 993.37 384.29 993.72 383.41 994.07 383.13 994.42 382.6 994.77 382.1 995.11 381.87 995.46 380.99 995.81 380.85 996.16 380.34 996.52 379.67 996.88 379.02 997.24 378.88 997.61 378.52 998 377.64 998.39 377.15 998.79 376.76 999.2 376.46 999.62 376.05 1000.05 375.82 1000.5 375.06 1000.95 375.12 1001.42 374.52 1001.89 374.01 1002.38 373.5 1002.87 373.5 1003.37 372.94 1003.88 372.77 1004.39 372.77 1004.91 372.02 1005.44 371.86 1005.97 371.84 1006.51 371.09 1007.05 371.22 1007.6 370.85 1008.15 370.55 1008.71 370.42 1009.27 370.17 1009.83 370.05 1010.4 369.61 1010.98 369.59 1011.56 369.79 1012.14 369.41 1012.72 369.39 1013.31 369.21 1013.9 369.45 1014.49 368.9 1015.08 369.04 1015.67 369.26 1016.26 369.37 1016.85 369.21 1017.44 369.51 1018.02 369.41 1018.6 369.38 1019.17 369.5 1019.74 369.75 1020.31 370.45 1020.87 370.17 1021.43 370.27 1021.99 370.82 1022.55 371 1023.11 371.11 1023.66 371.72 1024.22 371.81 1024.78 371.86 1025.33 371.86 1025.89 372.48 1026.44 372.7 1027 372.73 1027.55 373.34 1028.11 373.54 1028.66 373.52 1029.21 373.97 1029.77 374.21 1030.31 374.16 1030.86 374.77 1031.4 374.65 1031.93 375.11 1032.45 375.17 1032.95 375.19 1033.43 375.67 1033.88 375.96 1034.28 376.08 1034.63 376.06 1034.93 376.55" fill="none" stroke="#2f6db5" stroke-width="1.7" stroke-linejoin="round"/>
<path d="M734.51 605.46 735.85 608.4 734.88 606.27 736.03 607.09 735.64 607.7 736.45 604.94 738.77 604.06 737.88 601.26 739.9 601.42 739.66 601.72 739.16 601.75 741.65 601.5 740.58 598.62 743.16 596.27 741.94 596.5 744.32 598.68 743.9 594.56 745.16 594.97 747.5 596.58 747.29 591.59 748.65 593.76 749.83 594.91 749.33 590.97 752.12 592.07 753.38 593.41 752.65 589.34 754.71 590.91 755.21 591.71 757.45 591.06 756.9 589.84 759.23 588.34 761.07 589.47 762.1 588.67 761.77 588.92 764.68 588.13 764.42 590.13 766.96 589.52 767.38 587.05 767.73 587.99 770.27 586.26 771.6 586.78 772.5 585.97 774.29 587.1 773.74 585.38 774.85 585.47 775.79 586.38 777.88 584.57 778.7 586.6 779.76 582.79 781.16 585.15 781.88 583.3 782.39 583 784.67 583.68 785.36 582.83 786.94 581.99 789.25 579.69 788.61 579.81 790.87 582.44 792.04 581.22 792.32 581.7 793.92 582.59 796.26 580.91 795.89 577.51 797.91 578.34 799.35 579.29 799.32 577.16 801.95 580.22 802.19 579.68 803 578.76 804.62 576.48 805.03 577.78 806.82 573.88 806.87 574.24 809.53 574.48 809.7 575.31 810.07 573.57 811.62 571.38 813.81 571.85 814.68 571.23 814.99 570.59 815.75 569.4 816.88 570.06 819.41 569.68 818.4 570.7 821.34 570.26 822.33 568.39 821.88 567.54 823.24 568.5 824.83 568.46 826.45 566.87 827.87 566.9 829.03 566.99 828.38 562.1 829.22 565.52 830.98 562.06 832.2 562.43 833.49 563.39 833.22 562.41 835.56 559.08 837.27 560.94 838.3 557.52 839.42 558.3 840.41 559.89 841.55 557.45 840.4 557.67 843.53 557.69 843.03 557.53 844.19 556.64 845.56 552.42 847.79 553.79 847.99 553.39 848.43 550.83 849.52 552.55 851.83 552.26 852.67 552.7 852.06 552.63 853.36 548.11 854.69 547.98 855.35 549.42 857.21 546.27 857.42 546.08 859.29 547.13 861.18 544.55 861.99 546.85 861.21 546.57 862.49 541.97 864 543.72 865.57 544.33 865.95 544.53 866.63 540.5 867.86 539.33 868.52 542.05 871.1 541.54 871.7 537.44 872.01 537.94 873.7 538.59 874.26 538.51 875.26 534.58 875.87 536.27 877.15 536.27 879.33 534.35 879.84 531.81 880.93 530.51 880.24 531 882.14 532.84 882.8 528.49 883.12 527.62 884.84 528.63 885.05 526.51 886.42 526.23 888.76 524.92 889.47 526.63 890.48 526.75 889.97 524.75 891.14 522.64 891.77 522.87 892.91 523.39 893.88 524.34 896.9 523.86 897.69 519.51 896.98 517.66 898.04 520.84 900.66 520.54 900.65 517.53 901.09 518.26 902.24 517.93 902.67 515.9 904.32 516.37 905.55 511.48 905.93 511.86 907.54 511.06 906.72 509.48 908.76 512.44 910.55 507.38 909.4 509.63 911.09 505.9 912.28 506.45 912.44 505.89 914.82 503.92 914.54 504.73 915.4 503.97 917.3 502.11 916.06 503.32 919.01 499.75 918.14 499.11 919.65 499.1 920.82 498.43 921.71 496.83 921.58 499.47 923.17 498.27 924.19 494.03 926.54 494.51 927.36 493.08 927.48 493.34 929.22 491.71 929.96 492 929.68 493.22 929.95 489.81 932.01 490.28 932.2 489.2 932.32 489.12 935.52 484.98 936.36 487.42 936.19 487.55 937.25 485.08 938.25 482.73 939.74 483.75 939.51 483.11 940.67 482.03 940.7 478.77 941.64 481.94 943.21 481.05 943.41 477.72 943.85 477.74 945.57 474.3 947.41 478.08 947.19 476.49 949.52 474.85 950.06 474.67 950.86 471.14 952.35 470.94 951.3 469.86 952.45 470.75 955.11 467.53 955.99 470.58 954.89 467.69 957.44 466.79 956.5 464.33 957.65 466.28 958.46 466.08 959.76 464.34 960.85 461.64 962.96 463.4 962.68 459.49 962.79 461.91 964 459.89 964.23 457.65 965.15 457.89 966.98 457.61 968.05 455 968.29 457 969.48 454.13 969.7 455.57 971.91 454.47 972.15 450.12 972.47 451.92 974.16 449.48 974.34 450.79 975.41 448.94 975.88 447.7 978.32 448.96 977.97 444.09 980.44 445.64 979.97 443.69 980.21 441.42 982.36 444 983.26 442.2 984.43 442.92 983.45 440.61 985.84 438.47 986.81 440.69 986.28 435.62 987.44 434.41 988.63 436.77 988.53 434.13 990.82 433.18 991.2 434.74 992.36 431.19 992.18 432.98 993.13 430.89 993.14 428.47 994.22 426.27 996.01 426.25 997.35 428.82 996.21 425.21 996.77 423.14 997.62 422.9 999.31 424.9 1000.98 420.49 1000.44 422.55 1001.87 418.58 1002.79 421.68 1004.4 418.75 1003.62 415.55 1004.11 418.95 1006.14 415.35 1006.63 416.3 1007.33 414.45 1009.34 411.54 1009.98 410.75 1009.4 410.11 1011.36 409.32 1012.81 407.94 1013.91 407.05 1012.56 410.51 1015.33 405.52 1014.31 406.65 1016.66 403.89 1017.26 403.46 1018.91 405.19 1018.93 405.13 1018.38 401.97 1020.6 398.83 1020.39 402.69 1022.56 397.21 1021.43 397.95 1022.92 397.76 1024.56 398.56 1024.1 397.34 1026.06 395.43 1026.97 393.56 1027.85 394.8 1028.96 394.13 1028.61 393.34 1028.71 391.82 1029.71 388.1 1030.71 388.35 1030.56 388.59 1032.74 388.06 1031.75 389.07 1032.25 385.7 1034.8 387.3" fill="none" stroke="#4aa97a" stroke-width="1.6" stroke-linejoin="round"/>
<path d="M734.06 607.66 734.87 608.08 735.44 607.52 735.33 607.34 736.28 605.88 736.19 606.55 736.86 605.81 737.14 603.84 737.98 604.27 738.46 603.45 739.25 603.2 740.09 602.43 740.11 601.47 740.66 600.96 741.7 598.84 741.42 598.36 742.85 597.71 743.42 597.81 743.54 595.81 744.48 595.16 744.89 594.33 745.33 594.16 746.6 594.53 747.4 592.76 747.76 592.09 748.66 592.91 749.38 591.47 750.49 591.95 751.57 591.27 752.82 591.19 753.52 590.35 754.53 591.14 755.15 591.18 756.43 591.15 757.54 590.58 758.11 589.89 759.41 589.75 759.83 589.77 761.28 588.55 762.09 588.44 763.09 589.94 764.41 588.97 764.66 587.77 765.91 587.38 766.92 588.78 767.59 588.69 769.22 588.01 769.96 587.1 771.09 587.46 771.39 587.61 772.55 586.05 773.58 586.55 774.24 585.93 776.05 586.35 776.28 586.15 777.47 584.99 778.57 584.92 779.43 583.97 780.12 585.15 781.69 583.32 782.27 583.8 783.78 583.67 783.96 583.93 785.8 582.1 785.99 582.96 786.86 582.86 787.92 582.92 789.57 581.33 790.54 582.53 790.71 580.92 791.65 581.84 793.56 579.97 793.72 580.81 794.86 580.91 796.15 579.97 797.01 579.46 798.22 578.22 798.37 578.63 799.26 577.91 801.12 577.54 801.08 577.53 802.19 578.32 803.33 576.35 804.1 577.26 804.9 576.08 806.4 575.14 807.22 574.68 807.89 574.84 809 573.94 809.75 574.1 810.67 574.08 811.43 574.11 812.28 571.85 813.54 573.3 814.04 572.38 814.83 570.82 815.84 571.67 817.23 570.58 817.78 570.53 818.57 570.11 819.76 570.09 820.83 568.52 821.29 569.16 822.67 567.77 823.29 568.15 824.53 567.4 825.16 566.2 825.69 565.07 826.96 565.26 828.09 565.08 828.54 564.59 829.64 563.42 829.9 564.4 831.26 563.27 832.45 562.95 833.19 562.49 833.61 562.44 834.78 560.68 835.51 559.78 836.59 560.52 837.43 559.19 838.67 558.73 839.56 557.68 840.22 557.43 841.27 557.03 841.58 556.13 842.23 556.83 843.81 555.51 844.09 555.9 845.48 555.3 845.58 555.01 846.65 554.72 847.95 552.77 848.99 552.34 849.62 551.72 850.01 551.24 851.19 551.41 852.03 551.87 853.48 551.17 853.4 550.72 854.59 550.15 855.52 548.25 856.52 549.29 857.31 548.72 857.73 547.09 858.83 546.92 859.44 546.48 860.83 545.15 861.72 545.45 862.66 545.67 863.61 545.18 864.5 542.84 865.35 542.16 866.26 542.02 866.96 542.34 867.36 540.89 868.65 541.52 868.69 539.87 869.82 540.16 870.75 539.71 871.18 538.79 872 537.88 873.65 537.9 874.02 536.97 874.97 536.87 876.05 536.69 877.01 536.12 877.48 534.69 878.41 533.13 879.49 533.79 879.91 533.49 881.2 533.1 881.1 530.92 882.76 530.52 883.01 530.71 883.64 529.3 885.26 529.54 885.18 528.98 886.66 529.22 887.2 527.94 887.97 527.1 888.68 526.14 890.01 526.34 890.56 526.08 891.02 524.24 892.28 523.33 892.94 523.96 894.06 522.07 894.26 523.31 895.7 522.11 896.47 521.21 897.17 521.19 897.66 520.91 898.17 519.87 899.23 519.6 899.73 518.81 901.21 517.4 901.19 516.08 902.85 515.4 903.01 514.63 904.02 514.61 904.87 515.08 905.12 513.96 906.11 512.62 906.94 513.06 907.76 512.26 908.65 510.54 908.93 509.74 909.51 509.81 910.46 508.17 910.75 508.67 911.76 506.27 912.72 505.74 913.64 505.83 914.06 504.42 915.07 503.54 915.32 503.5 916.25 503.03 916.77 502.23 917.55 502.47 918 501.82 918.88 499.68 920.2 499.05 920.63 499.27 921.74 499.19 921.92 497.35 922.88 498.12 924.33 495.54 924.14 496.72 924.96 495.65 926.09 495.2 927.39 493.8 928.03 494.01 928.42 493.21 929.08 492.07 930.45 492.01 930.75 490.16 931.6 489.95 932.08 488.32 932.52 489.29 934.1 487.84 933.9 487.09 934.65 485.64 936.12 486.24 936.11 484.87 937.09 483.96 937.71 483.49 938.53 483.76 939.6 483.24 940.5 480.97 940.45 480.7 942.02 479.67 942.19 479.63 943.12 479.27 944.31 477.6 944.25 478.01 945.21 476.13 946.62 475.82 946.77 474.74 947.63 474.23 948.28 474.01 949.14 474.38 949.83 472.21 950.34 471.48 951.68 472.05 952.48 470.89 952.58 471.06 953.32 470.13 954.09 470.03 954.95 467.97 956.32 467.8 956.57 467.21 957.88 466.36 957.85 465.59 958.49 465.13 959.39 464.64 960.28 464.32 961.46 462.36 961.89 461.65 962.15 461.33 963.15 460.87 963.72 459.66 964.49 460.32 965.85 458.36 965.78 458.33 967.05 458.18 967.92 456.31 968.34 456.71 968.64 455.13 969.89 455.26 970.92 454.6 971.29 453.14 971.92 452.78 972.78 451.21 973.23 450.7 974.18 450.41 974.52 450.2 976.05 449.68 976.79 448.01 976.83 447 977.76 447.11 978.38 446.94 978.97 446.05 980.15 444.3 980.22 443.15 981.38 443.26 981.88 442.08 982.46 442.27 982.95 442.22 983.65 440.63 984.48 439.09 985.58 438.31 985.78 437.29 987.04 436.76 987.27 437.1 987.85 436.04 989.11 435.66 989 435.44 989.8 433.92 990.85 432.02 991.08 431.43 991.54 432.36 992.67 431.3 993.04 428.98 994.21 428.17 994.93 427.6 995.31 427.03 996.13 426.8 996.7 426.55 997.25 426.16 997.57 424.71 998.67 424.68 998.92 423.38 1000.27 423.08 1000.88 422.3 1001.32 421.82 1001.77 420.98 1003 420.22 1003.39 419.03 1004.06 418.77 1004.92 417.53 1005.48 415.73 1006.04 415.75 1006.56 414.5 1007.87 413.65 1008.43 414.64 1008.86 413.02 1010 412.15 1010.64 411.2 1011.73 411.3 1011.87 410.73 1012.34 408.64 1012.95 409.71 1013.86 408.13 1014.66 407.26 1015.75 406.8 1016.03 406.29 1016.53 405.58 1017.37 403.78 1018.13 403.62 1018.54 402.26 1019.41 402.3 1020.5 400.74 1020.65 401.34 1021.22 399.27 1022.41 399.96 1022.4 398.04 1023.15 397.97 1024.34 396.69 1024.86 395.88 1025.31 395.18 1026.24 394.29 1026.55 394.2 1027.28 393.14 1027.54 393.25 1028.77 392.19 1029.37 390.29 1029.69 389.47 1030.56 388.87 1031.5 388.72 1031.39 389.01 1032.58 387.84 1032.4 388.08 1033.11 386.86 1033.81 386.21 1034.28 386.48" fill="none" stroke="#2f8f5f" stroke-width="1.5" stroke-linejoin="round"/>
<path d="M736.44 605.24 736.04 605.54 738.27 603.21 738.65 601.76 739.45 603.94 741.12 602.34 741.21 601.19 742.27 599.83 744.39 596.38 745.84 596.71 745.12 598.26 748.4 593.37 749.33 595.97 751.75 595.16 752.93 590.71 755.17 592.61 756.49 591.48 757.21 591.04 758.76 589.94 762.31 588.49 763.35 588.01 765.99 588.65 766.16 587.4 768.91 588.61 770.34 586.46 773.74 584.73 775.29 584.24 775.83 583.28 778.98 585.66 781.41 583.24 781.57 582.28 784.77 584.5 787.38 582.77 787.6 580.05 790.79 581.49 791.43 579.17 794.85 580.82 795.3 577.71 797.64 578.47 799.46 579.72 801.41 578.59 804.58 574.64 804.69 577.8 806.91 575.68 809.62 575.13 810.74 574.4 812.81 574.19 815.08 570.01 817.41 571.95 818.81 571.33 819.77 570.38 821.35 565.94 823.12 566.6 826.09 565.87 827.59 565.29 827.88 564.21 830.63 561.65 832.72 564.44 834.07 559.41 835.91 560.69 838.4 559.71 839 560.36 840.3 556.03 843.09 554.52 844.94 557.03 847.38 552.2 848.78 554.61 850.41 553.46 852.51 552.89 853.03 552.05 854.54 548.18 857.12 546.96 858.54 546.23 860.15 546.95 861.21 543.09 863.85 544.62 865.6 544.33 866.65 542.51 868.05 541.8 871.35 538.79 871.41 537.08 872.86 536.07 875.88 537.06 876.88 533 879.57 533.57 879.93 532.57 882.11 532.09 882.44 528.57 885.75 529.46 887.82 529.99 888.83 526.85 890.78 525.89 890.78 526.53 893.89 524.63 894.69 521.93 895.71 518.84 898.87 521.06 899.9 519.09 900.46 517.89 902.1 516.99 903.37 515.32 905.97 512.53 907.59 511.64 907.66 511.75 911.16 510.46 911.16 506.69 913.42 504.49 915.21 504.9 916.88 503.23 918 503.86 919.4 500.74 920.49 499.44 921.72 497.49 924.53 498 925.28 497.38 927.32 492.45 928.87 493.45 928.83 489.91 930.4 489.21 931.49 490.75 933.23 487.27 934.64 486.17 937.86 485.57 939.52 484.11 939.97 479.9 941.33 482.3 943.35 477.88 943.61 479.15 946.38 477.2 947.31 475.17 949.29 475.79 951.1 471.55 952.05 472.6 953.01 470.73 954.55 467.36 955.77 469.16 958.52 466.18 959.15 464.8 961.28 461.55 961.82 461.34 963.27 459.12 964.84 459.34 966.67 456.9 969.04 454.66 970.05 454.05 970.5 452.07 971.44 453.22 973.77 451.81 974.87 447.64 977.36 448.8 977.96 444.32 978.9 443.66 981.84 444.06 983.06 442.9 983.41 440.39 984.67 438.3 986.76 437.05 988.45 437.63 989.65 434.61 991.39 434.71 992.09 433.53 992.76 431.98 994.82 428.54 996.25 427.52 996.35 424.3 997.76 426.11 999.82 424.76 1001.02 422.6 1002.42 419.85 1004.12 416.39 1005.12 415.94 1006.25 413.57 1008.17 412.56 1009.01 411.63 1011.49 410.95 1012.24 411.15 1013.54 406.98 1015.42 406.7 1015.77 406.61 1018.24 402.04 1018.4 401.74 1021.25 401.04 1021.81 397.92 1022.21 395.76 1024.25 396.94 1025.6 393.07 1026.62 394.3 1027.03 392.31 1029.93 390.38 1029.86 389.15 1031.79 391.37 1032.77 389.07 1032.27 386.46" fill="none" stroke="#2f62b0" stroke-width="0.9" stroke-linejoin="round" stroke-opacity="0.55"/>
<path d="M734.28 609.81 734.88 609.86 735.65 609.7 736.55 609.29 737.51 608.91 738.5 608.6 739.49 608.93 740.49 608.79 741.48 608.8 742.48 608.63 743.47 608.58 744.47 608.43 745.46 608.51 746.45 608.32 747.44 608.08 748.43 607.74 749.42 607.45 750.41 607.98 751.4 607.18 752.39 606.9 753.38 606.58 754.37 607.33 755.36 606.3 756.34 606.32 757.33 605.88 758.31 605.84 759.29 605.82 760.28 606.12 761.26 605.36 762.24 605.79 763.22 604.62 764.19 604.72 765.17 604.53 766.15 604.68 767.12 604.62 768.09 603.76 769.07 603.63 770.04 603.23 771.01 603.51 771.98 603.09 772.95 602.26 773.91 602.52 774.88 602.44 775.84 601.4 776.8 601.54 777.76 601.59 778.72 601.49 779.67 600.78 780.62 599.92 781.57 600.01 782.52 599.42 783.47 599.53 784.41 598.77 785.35 598.36 786.28 598.39 787.22 597.59 788.15 597.85 789.07 597.67 789.99 597.28 790.91 596.3 791.81 596.09 792.71 595.72 793.61 595.11 794.49 594.6 795.37 593.66 796.23 593.21 797.09 593.06 797.93 592.52 798.77 591.72 799.6 591.5 800.42 590.99 801.23 590.53 802.04 589.53 802.85 589.03 803.65 588.85 804.45 588.01 805.25 587.53 806.05 586.73 806.86 586.45 807.67 585.75 808.47 585.3 809.28 584.05 810.09 583.55 810.9 583.13 811.71 582.55 812.5 582.06 813.3 581.66 814.08 580.75 814.86 580.53 815.62 579.66 816.37 578.45 817.11 578.22 817.83 577.47 818.54 576.96 819.23 576.27 819.9 575.03 820.56 574.12 821.21 573.85 821.85 572.45 822.48 572.45 823.09 571.37 823.7 571.07 824.3 570.25 824.9 568.69 825.49 568.5 826.07 567.65 826.65 566.26 827.23 565.86 827.81 565.36 828.38 564.3 828.96 562.84 829.53 562.42 830.11 561.56 830.68 560.28 831.25 560.44 831.82 559.51 832.39 558.02 832.95 557.58 833.51 556.62 834.07 555.67 834.63 555.01 835.19 554.21 835.74 553.64 836.29 552.03 836.83 551.74 837.38 550.79 837.92 549.61 838.46 548.75 839 548.39 839.53 547.79 840.06 546.09 840.59 545.63 841.11 545.23 841.63 543.97 842.15 543 842.66 542.01 843.17 540.96 843.67 540.22 844.18 539.73 844.67 538.83 845.16 537.97 845.65 536.85 846.13 536.54 846.61 535.64 847.09 534.38 847.56 533.78 848.02 532.92 848.48 531.62 848.94 530.53 849.39 529.72 849.84 528.8 850.29 528.06 850.73 526.78 851.17 526.15 851.6 525.5 852.04 524.48 852.47 523.69 852.89 522.99 853.32 522.27 853.74 520.76 854.16 519.79 854.57 519.09 854.99 518.31 855.39 516.97 855.8 515.89 856.2 515.15 856.6 514.27 857 513.54 857.39 512.81 857.78 511.56 858.17 511.31 858.55 510.28 858.94 509.11 859.32 507.9 859.7 506.8 860.07 506.36 860.45 505.49 860.82 503.91 861.2 503.69 861.57 502.87 861.94 501.68 862.3 500.82 862.67 500.05 863.04 499.2 863.4 497.67 863.77 496.44 864.13 495.76 864.49 494.68 864.85 493.95 865.21 493.15 865.57 492.5 865.93 491.72 866.28 490.12 866.63 489.85 866.99 488.14 867.34 487.46 867.68 486.26 868.03 485.4 868.37 484.21 868.71 483.5 869.05 482.69 869.38 481.86 869.71 480.72 870.04 479.48 870.37 479.4 870.69 477.81 871 476.84 871.31 475.67 871.62 474.97 871.91 474.03 872.21 473.37 872.49 472.36 872.76 471.67 873.03 470.68 873.29 469.87 873.55 468.49 873.8 467.93 874.05 466.84 874.3 465.25 874.55 464.78 874.8 464.03 875.06 463.05 875.32 462.04 875.58 460.86 875.86 460.21 876.14 458.54 876.42 458.02 876.72 456.49 877.02 456.08 877.33 455.17 877.64 454.18 877.96 453.05 878.28 452.02 878.6 451.52 878.93 450.18 879.26 449.08 879.59 447.87 879.93 447.53 880.27 446.69 880.61 445.49 880.95 444.78 881.29 443.74 881.64 442.67 881.99 441.41 882.34 440.64 882.69 440.07 883.04 439.16 883.39 437.52 883.74 436.96 884.09 436.2 884.44 435.38 884.79 434.11 885.14 433.32 885.49 432.21 885.85 431.24 886.2 430.28 886.55 429.84 886.91 428.16 887.27 427.19 887.64 426.9 888 425.64 888.37 425.29 888.75 423.59 889.13 422.91 889.52 421.97 889.91 421.16 890.32 419.89 890.72 419.8 891.14 418.54 891.57 417.93 892 416.74 892.44 415.83 892.89 414.9 893.35 413.65 893.81 412.8 894.27 411.8 894.75 411.45 895.23 410.72 895.72 409.21 896.21 408.18 896.72 407.66 897.23 407.36 897.76 405.69 898.31 405.26 898.87 404.66 899.47 403.27 900.09 402.65 900.74 401.76 901.39 401.26 902.03 400.96 902.64 399.87 903.2 398.53 903.71 397.9 904.17 397.38 904.61 396.77 905.02 395.23 905.41 394.46 905.8 393.24 906.19 392.44 906.58 391.31 906.98 390.44 907.39 389.64 907.81 388.48 908.23 387.8 908.66 386.7 909.09 385.74 909.52 385.77 909.96 384.23 910.42 383.71 910.91 382.44 911.45 381.8 912.05 381.47 912.73 380.92 913.46 380.35 914.22 380.17 914.95 380.42 915.62 381.5 916.21 381.43 916.74 382.51 917.23 383.03 917.7 384.5 918.18 385.68 918.68 386.13 919.22 386.65 919.81 387.14 920.43 387.81 921.05 387.2 921.62 387.4 922.12 386.21 922.54 385.53 922.9 385.32 923.23 383.75 923.53 383.42 923.83 382.4 924.12 380.74 924.44 379.63 924.78 379.03 925.15 378.43 925.58 377.79 926.06 376.32 926.58 375.49 927.16 374.45 927.78 374.28 928.43 373.24 929.12 372.52 929.83 371.52 930.56 370.71 931.31 370.7 932.09 369.91 932.91 369.78 933.76 368.67 934.63 369.36 935.5 369.48 936.35 369.22 937.19 369.72 938.03 370.61 938.88 371.13 939.75 371.67 940.64 371.4 941.55 372.2 942.46 373.02 943.35 373.59 944.23 373.8 945.06 374.41 945.82 374.31 946.51 375.86 947.11 375.96 947.66 376.61 948.19 377.88 948.77 377.89 949.42 378.8 950.17 379.33 951 378.65 951.87 378.79 952.76 378.34 953.67 378.07 954.58 378.76 955.48 377.94 956.35 378.59 957.18 378.88 957.96 380.03 958.71 380.32 959.44 381.09 960.16 381.56 960.9 382.45 961.64 382.51 962.4 383.63 963.17 384.62 963.94 384.92 964.71 385.42 965.5 385.73 966.3 386.89 967.13 387.48 967.98 388.01 968.85 388.01 969.77 388.54 970.71 388.9 971.67 388.94 972.63 389.27 973.58 389.17 974.48 389.94 975.33 390.3 976.1 390.84 976.79 391.31 977.4 392.37 977.97 393.34 978.5 394.16 979.03 395.23 979.57 395.23 980.16 396.21 980.8 397.34 981.51 398.36 982.28 398.91 983.1 399.04 983.95 400.09 984.81 399.75 985.64 400.46 986.45 400.73 987.2 401.73 987.92 402.29 988.6 403.04 989.25 404.51 989.88 404.67 990.5 405.11 991.12 406.54 991.75 407.61 992.4 407.94 993.07 408.84 993.78 409.85 994.51 409.97 995.29 410.94 996.09 410.83 996.92 411.93 997.78 412.22 998.64 413.24 999.51 413.14 1000.38 413.6 1001.24 414.21 1002.08 414.41 1002.9 415.3 1003.7 415.75 1004.47 417 1005.22 416.95 1005.95 417.57 1006.66 418.75 1007.34 419.58 1008.02 420.19 1008.68 420.61 1009.33 421.76 1009.96 422.81 1010.59 423.64 1011.2 424.47 1011.8 425.17 1012.38 426.14 1012.94 426.35 1013.48 427.04 1013.98 428.45 1014.43 429.23 1014.83 429.54 1015.19 431.33 1015.55 432.09 1015.95 432.59 1016.44 433.62 1017.06 434.03 1017.81 434.17 1018.68 434.65 1019.61 434.71 1020.58 434.32 1021.56 434.29 1022.54 435.08 1023.52 435.22 1024.48 435.36 1025.41 435.16 1026.33 436.03 1027.23 435.81 1028.11 437.14 1028.96 436.8 1029.8 437.91 1030.61 437.94 1031.39 439.14 1032.16 439.19 1032.89 440.49 1033.6 441.06 1034.25 441.58 1034.81 441.94 1035.24 442.52" fill="none" stroke="#e5333b" stroke-width="1.6" stroke-linejoin="round"/>
<path d="M733.89 608.64 734.41 608.84 735.1 608.46 735.89 607.67 736.74 607.22 737.61 606.83 738.49 606.55 739.37 605.91 740.26 605.27 741.14 605.05 742.02 604.39 742.9 604.62 743.78 604.21 744.66 602.81 745.53 602.99 746.41 602.37 747.28 602.2 748.15 601.48 749.03 600.86 749.9 600.52 750.77 599.71 751.64 599.52 752.52 599.16 753.39 598.3 754.26 598.28 755.13 597.65 756 597.33 756.87 596.01 757.73 595.86 758.6 595.78 759.46 594.97 760.33 594.67 761.19 594.26 762.04 592.96 762.9 592.49 763.75 592.59 764.6 592.09 765.44 591.4 766.28 590.44 767.12 590 767.95 589.59 768.78 588.91 769.6 588.32 770.42 587.7 771.23 587.55 772.04 586.27 772.85 586.18 773.65 585.59 774.45 585.21 775.25 583.72 776.05 583.71 776.84 583.09 777.63 582.29 778.41 581.26 779.2 580.63 779.98 580.13 780.77 580.13 781.55 578.87 782.33 578.21 783.1 577.79 783.88 577.29 784.66 576.87 785.43 576.33 786.2 575.16 786.98 575.16 787.75 573.63 788.51 573.34 789.28 572.51 790.04 572 790.8 571.45 791.55 570.84 792.3 570.09 793.04 569.21 793.78 568.54 794.52 567.88 795.26 567.7 796 566.7 796.73 566.19 797.47 565.43 798.21 564.69 798.95 564.31 799.69 563.45 800.42 562.51 801.14 562.48 801.85 561.03 802.56 560.23 803.25 559.99 803.93 559.13 804.6 558.07 805.25 557.23 805.88 556.88 806.49 555.84 807.08 554.85 807.65 554.41 808.2 553.71 808.73 552.27 809.25 551.87 809.74 550.59 810.23 550.42 810.71 549.5 811.18 548.12 811.64 547.07 812.1 546.99 812.55 545.7 813 544.42 813.46 543.5 813.91 543.34 814.37 542.15 814.83 540.97 815.29 540.4 815.77 539.26 816.25 538.86 816.75 537.69 817.26 537.3 817.79 536 818.33 535.54 818.88 534.05 819.45 533.5 820.03 532.66 820.63 532.16 821.23 530.63 821.85 530.6 822.47 529.78 823.1 528.59 823.73 527.44 824.36 527.4 824.99 526.53 825.62 525.99 826.25 524.85 826.87 524.47 827.49 523.02 828.1 522.26 828.7 521.85 829.3 521.01 829.88 520.22 830.45 519.56 831.01 518.55 831.57 517.69 832.12 517.01 832.66 515.97 833.2 514.78 833.74 514.46 834.27 513.02 834.79 512.63 835.32 511.61 835.84 510.59 836.36 509.53 836.88 509.38 837.4 507.72 837.91 507.58 838.43 506.6 838.94 505.52 839.46 504.86 839.98 503.62 840.5 503.34 841.02 501.8 841.53 501.34 842.05 500.37 842.57 499.72 843.09 498.66 843.61 498.28 844.12 497.32 844.63 496.5 845.14 494.77 845.65 494.03 846.16 493.49 846.66 492.88 847.16 491.63 847.66 490.97 848.16 489.58 848.65 489.3 849.13 488.46 849.62 487.3 850.09 486.16 850.57 485.55 851.03 484.99 851.5 483.94 851.96 483.35 852.42 482.15 852.87 480.86 853.32 480.38 853.77 478.94 854.21 478.73 854.66 477.29 855.1 477.09 855.54 475.76 855.98 474.83 856.42 473.62 856.86 473.39 857.3 472.6 857.74 471.48 858.18 470.55 858.62 469.69 859.07 468.83 859.51 467.9 859.96 466.43 860.41 466.05 860.86 465.4 861.3 463.62 861.75 462.88 862.2 462.56 862.65 460.94 863.1 460.28 863.55 459.97 863.99 458.58 864.44 458.21 864.89 456.7 865.34 455.9 865.79 454.73 866.24 454.54 866.69 453.76 867.13 452.11 867.58 451.34 868.03 450.81 868.48 449.32 868.93 448.37 869.38 447.77 869.82 446.93 870.27 446.2 870.71 445.3 871.15 444.18 871.59 443.37 872.03 442.29 872.46 441.34 872.9 441.01 873.34 439.47 873.77 438.88 874.21 437.65 874.65 437.44 875.09 436.57 875.53 434.94 875.98 434.65 876.43 433.95 876.88 432.52 877.34 432.02 877.8 431.28 878.27 429.47 878.74 428.86 879.22 427.74 879.71 427.02 880.19 425.96 880.68 425.12 881.18 424.85 881.67 423.61 882.17 423.3 882.67 421.92 883.17 421.64 883.68 419.98 884.19 419.54 884.72 418.43 885.25 418.09 885.79 416.78 886.34 415.72 886.9 415.23 887.47 414.2 888.06 413.88 888.66 413.07 889.29 411.56 889.93 410.79 890.59 410.95 891.28 409.63 891.98 408.89 892.71 408.17 893.44 407.47 894.19 407.32 894.94 406.15 895.69 405.94 896.44 405.22 897.18 404.43 897.91 403.87 898.62 402.66 899.31 402.23 899.99 401.52 900.64 400.29 901.27 399.7 901.89 399.63 902.49 398.55 903.08 398.06 903.66 396.63 904.23 396.2 904.8 395.22 905.37 394.39 905.94 393.08 906.52 392.37 907.1 391.4 907.69 391.03 908.29 390.06 908.9 389.12 909.52 388.5 910.14 387.87 910.76 387.27 911.39 386.36 912.01 385.63 912.63 384.8 913.25 383.79 913.87 382.94 914.47 382.38 915.06 381.76 915.64 381.11 916.2 380.19 916.76 379.08 917.33 378.53 917.9 376.91 918.5 376.87 919.12 375.49 919.77 375.22 920.45 374.62 921.15 373.4 921.86 372.78 922.6 372.69 923.36 371.3 924.14 371.19 924.95 370.29 925.79 369.74 926.66 369.88 927.55 369.43 928.45 369.75 929.34 369.47 930.22 370.35 931.11 370.48 932.02 370.36 932.93 370.59 933.85 370.52 934.78 370.11 935.7 369.36 936.63 369.61 937.56 369.49 938.48 369.88 939.37 369.76 940.23 370.24 941.08 370.39 941.93 371.03 942.79 371.84 943.67 372.3 944.58 372.88 945.52 372.8 946.47 372.91 947.44 373.18 948.41 373.55 949.39 373.32 950.36 373.17 951.33 373.59 952.29 373.56 953.25 372.49 954.21 372.32 955.18 372.51 956.14 372.89 957.09 373.45 958.02 373.39 958.94 373.86 959.85 374.25 960.75 374.97 961.66 375.31 962.58 375.2 963.51 376.02 964.46 375.76 965.42 376.76 966.38 376.44 967.33 376.88 968.25 377.32 969.13 377.41 969.94 378.5 970.67 379.25 971.34 379.54 971.94 379.98 972.49 380.87 973.01 382.25 973.52 382.86 974.01 383.71 974.52 384.19 975.02 385.64 975.53 385.92 976.04 386.82 976.55 388.08 977.07 388.96 977.62 389.35 978.22 390.83 978.88 391.22 979.62 391.73 980.42 391.87 981.25 391.53 982.09 391.36 982.94 390.36 983.8 390.54 984.67 390.3 985.55 390.26 986.43 389.92 987.28 390.36 988.1 391.49 988.89 391.37 989.65 392.44 990.4 392.66 991.15 393.63 991.91 394.59 992.67 395.18 993.45 395.02 994.24 396.03 995.04 396.59 995.87 397.64 996.73 397.24 997.63 398.02 998.56 398.78 999.52 397.97 1000.5 398.66 1001.48 398.78 1002.45 398.25 1003.39 398.6 1004.31 399.13 1005.19 399.28 1006.03 400.52 1006.84 400.88 1007.63 400.88 1008.4 402.29 1009.15 402.36 1009.9 403.15 1010.63 404.05 1011.36 404.62 1012.07 405.36 1012.77 406.48 1013.47 406.64 1014.17 407.5 1014.86 407.9 1015.56 408.46 1016.25 409.67 1016.94 409.98 1017.62 411.29 1018.3 411.59 1018.97 412.61 1019.64 413.66 1020.33 414.26 1021.04 414.7 1021.78 415.61 1022.56 415.84 1023.4 416.93 1024.28 416.73 1025.21 417.34 1026.17 417.41 1027.13 417.23 1028.09 417.82 1029.03 418.3 1029.94 418.57 1030.83 419.48 1031.68 419.18 1032.51 420.34 1033.3 420.76 1034.04 421.01 1034.67 421.66 1035.16 421.58" fill="none" stroke="#141414" stroke-width="2.0" stroke-linejoin="round"/>
<path d="M871.7 383.7 L897.3 383.7" stroke="#111" stroke-width="1.4"/><path d="M909.3 383.7 L896.3 387.4 L896.3 380 Z" fill="#111"/>
<path d="M785.2 510.3 L808.17 527.9" stroke="#111" stroke-width="1.4"/><path d="M817.7 535.2 L805.13 530.23 L809.63 524.36 Z" fill="#111"/>
<path d="M929.1 433 L941.41 448.75" stroke="#111" stroke-width="1.4"/><path d="M948.8 458.2 L937.88 450.24 L943.71 445.68 Z" fill="#111"/>
<path d="M975 502.8 L963.89 479.07" stroke="#111" stroke-width="1.4"/><path d="M958.8 468.2 L967.66 478.4 L960.96 481.54 Z" fill="#111"/>
<path d="M930.2 566.7 L921.63 561.83" stroke="#111" stroke-width="1.4"/><path d="M911.2 555.9 L924.33 559.11 L920.67 565.54 Z" fill="#111"/>
<g font-family="'Liberation Serif', serif" fill="#111" font-weight="bold">
<text x="213.5" y="730" font-size="20" textLength="18" lengthAdjust="spacingAndGlyphs">图</text>
<text x="239.3" y="730" font-size="20.5" textLength="18.3" lengthAdjust="spacingAndGlyphs">11</text>
<text x="280.4" y="730" font-size="20" textLength="351" lengthAdjust="spacingAndGlyphs">一回路水环境中腐蚀不同时间钛合金的</text>
<text x="637" y="730" font-size="20.5" textLength="29.5" lengthAdjust="spacingAndGlyphs">500</text>
<text x="673" y="730" font-size="20.5" textLength="22.5" lengthAdjust="spacingAndGlyphs">°C</text>
<text x="702.1" y="730" font-size="20" textLength="329" lengthAdjust="spacingAndGlyphs">氢同位素渗透曲线和归一化扩散曲线</text>
<text x="68.4" y="765" font-size="20.7" textLength="57.5" lengthAdjust="spacingAndGlyphs">Fig. 11</text>
<text x="148.6" y="765" font-size="20.7" textLength="1026.5" lengthAdjust="spacingAndGlyphs">Hydrogen isotope permeation curves (a) and normalized diffusion curves (b) at 500 °C of titanium alloy corroded for</text>
<text x="370.7" y="799" font-size="20.7" textLength="502" lengthAdjust="spacingAndGlyphs">different durations in primary circuit water environment</text>
</g>
</svg>
</body></html>
